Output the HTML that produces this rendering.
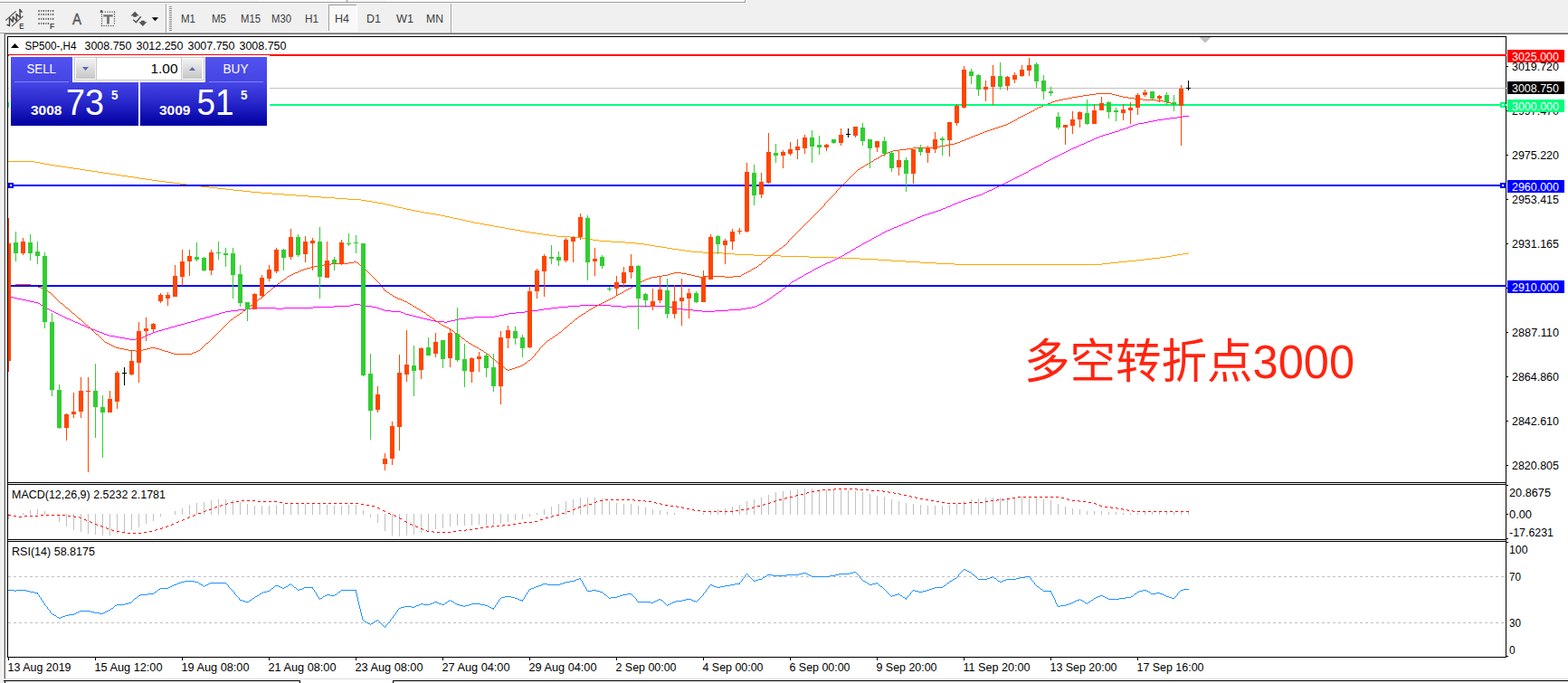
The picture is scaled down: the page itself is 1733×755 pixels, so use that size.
<!DOCTYPE html><html><head><meta charset="utf-8"><title>SP500 H4</title>
<style>html,body{margin:0;padding:0;background:#fff;overflow:hidden}body{width:1733px;height:755px}svg{display:block}text{font-family:"Liberation Sans",sans-serif}</style></head><body>
<svg width="1733" height="755" viewBox="0 0 1733 755">
<rect x="0" y="0" width="1733" height="755" fill="#fff"/>
<g shape-rendering="crispEdges">
<rect x="0" y="0" width="1733" height="36" fill="#f0f0f0"/>
<rect x="0" y="0" width="823" height="2" fill="#f6f6f6"/>
<rect x="285" y="0" width="98" height="2" fill="#fff"/>
<rect x="427" y="0" width="396" height="2" fill="#fff"/>
<rect x="0" y="2" width="824" height="1" fill="#9c9c9c"/>
<rect x="823" y="0" width="1" height="3" fill="#9c9c9c"/>
<rect x="383" y="0" width="1" height="2" fill="#8c8c8c"/>
<rect x="0" y="3" width="825" height="1" fill="#fbfbfb"/>
<rect x="824" y="0" width="1" height="4" fill="#fbfbfb"/>
<rect x="0" y="35" width="1733" height="1" fill="#f6f6f6"/>
<rect x="0" y="36" width="1733" height="1" fill="#a0a0a0"/>
<rect x="0" y="37" width="1733" height="1" fill="#696969"/>
<rect x="0" y="37" width="3" height="718" fill="#f0f0f0"/>
<rect x="3" y="37" width="1" height="718" fill="#fff"/>
<rect x="4" y="37" width="1" height="713" fill="#b4b4b4"/>
<rect x="5" y="37" width="1" height="713" fill="#696969"/>
<rect x="183" y="4" width="1" height="32" fill="#a0a0a0"/>
<rect x="184" y="4" width="1" height="32" fill="#fff"/>
<rect x="187" y="7" width="3" height="1" fill="#909090"/>
<rect x="187" y="9" width="3" height="1" fill="#909090"/>
<rect x="187" y="11" width="3" height="1" fill="#909090"/>
<rect x="187" y="13" width="3" height="1" fill="#909090"/>
<rect x="187" y="15" width="3" height="1" fill="#909090"/>
<rect x="187" y="17" width="3" height="1" fill="#909090"/>
<rect x="187" y="19" width="3" height="1" fill="#909090"/>
<rect x="187" y="21" width="3" height="1" fill="#909090"/>
<rect x="187" y="23" width="3" height="1" fill="#909090"/>
<rect x="187" y="25" width="3" height="1" fill="#909090"/>
<rect x="187" y="27" width="3" height="1" fill="#909090"/>
<rect x="187" y="29" width="3" height="1" fill="#909090"/>
<rect x="187" y="31" width="3" height="1" fill="#909090"/>
<rect x="187" y="33" width="3" height="1" fill="#909090"/>
<rect x="498" y="4" width="1" height="32" fill="#a0a0a0"/>
<rect x="499" y="4" width="1" height="32" fill="#fff"/>
<rect x="363" y="5" width="32" height="30" fill="#f9f9f9"/>
<rect x="363" y="5" width="32" height="1" fill="#a0a0a0"/>
<rect x="363" y="5" width="1" height="30" fill="#a0a0a0"/>
<rect x="394" y="5" width="1" height="30" fill="#fff"/>
<rect x="363" y="34" width="32" height="1" fill="#fff"/>
</g>
<text x="200" y="25" font-size="12" fill="#3c3c3c" textLength="16" lengthAdjust="spacingAndGlyphs">M1</text>
<text x="234" y="25" font-size="12" fill="#3c3c3c" textLength="16" lengthAdjust="spacingAndGlyphs">M5</text>
<text x="266" y="25" font-size="12" fill="#3c3c3c" textLength="22" lengthAdjust="spacingAndGlyphs">M15</text>
<text x="300" y="25" font-size="12" fill="#3c3c3c" textLength="22" lengthAdjust="spacingAndGlyphs">M30</text>
<text x="337" y="25" font-size="12" fill="#3c3c3c" textLength="15" lengthAdjust="spacingAndGlyphs">H1</text>
<text x="370" y="25" font-size="12" fill="#3c3c3c" textLength="16" lengthAdjust="spacingAndGlyphs">H4</text>
<text x="405" y="25" font-size="12" fill="#3c3c3c" textLength="16" lengthAdjust="spacingAndGlyphs">D1</text>
<text x="438" y="25" font-size="12" fill="#3c3c3c" textLength="19" lengthAdjust="spacingAndGlyphs">W1</text>
<text x="471" y="25" font-size="12" fill="#3c3c3c" textLength="19" lengthAdjust="spacingAndGlyphs">MN</text>
<g stroke="#484848" stroke-width="1.45" fill="none" stroke-linecap="round" stroke-linejoin="round">
<path d="M6.6 22.2L17.3 12.8M13.4 28.8L25.2 18.1" stroke="#6a6a6a" stroke-width="1.3"/>
<path d="M8 27.3L10.5 28.5L10.5 19.8L14.3 24.3L14.3 18.4L18.5 23.4L18.1 15.5L22.3 19.3L21.9 10.5L24 13.3"/>
</g>
<text x="21.2" y="31.8" font-size="9" fill="#484848" textLength="5.2" lengthAdjust="spacingAndGlyphs" font-weight="bold">E</text>
<rect x="42.45" y="11.00" width="1.3" height="2.1" fill="#555"/>
<rect x="45.03" y="11.00" width="1.3" height="2.1" fill="#7a7a7a"/>
<rect x="47.62" y="11.00" width="1.3" height="2.1" fill="#555"/>
<rect x="50.20" y="11.00" width="1.3" height="2.1" fill="#7a7a7a"/>
<rect x="52.78" y="11.00" width="1.3" height="2.1" fill="#555"/>
<rect x="55.37" y="11.00" width="1.3" height="2.1" fill="#7a7a7a"/>
<rect x="57.95" y="11.00" width="1.3" height="2.1" fill="#555"/>
<rect x="42.45" y="14.85" width="1.3" height="2.1" fill="#555"/>
<rect x="45.03" y="14.85" width="1.3" height="2.1" fill="#7a7a7a"/>
<rect x="47.62" y="14.85" width="1.3" height="2.1" fill="#555"/>
<rect x="50.20" y="14.85" width="1.3" height="2.1" fill="#7a7a7a"/>
<rect x="52.78" y="14.85" width="1.3" height="2.1" fill="#555"/>
<rect x="55.37" y="14.85" width="1.3" height="2.1" fill="#7a7a7a"/>
<rect x="57.95" y="14.85" width="1.3" height="2.1" fill="#555"/>
<rect x="42.45" y="19.85" width="1.3" height="2.1" fill="#555"/>
<rect x="45.03" y="19.85" width="1.3" height="2.1" fill="#7a7a7a"/>
<rect x="47.62" y="19.85" width="1.3" height="2.1" fill="#555"/>
<rect x="50.20" y="19.85" width="1.3" height="2.1" fill="#7a7a7a"/>
<rect x="52.78" y="19.85" width="1.3" height="2.1" fill="#555"/>
<rect x="55.37" y="19.85" width="1.3" height="2.1" fill="#7a7a7a"/>
<rect x="57.95" y="19.85" width="1.3" height="2.1" fill="#555"/>
<rect x="42.45" y="24.95" width="1.3" height="2.1" fill="#555"/>
<rect x="45.03" y="24.95" width="1.3" height="2.1" fill="#7a7a7a"/>
<rect x="47.62" y="24.95" width="1.3" height="2.1" fill="#555"/>
<rect x="50.20" y="24.95" width="1.3" height="2.1" fill="#7a7a7a"/>
<rect x="52.78" y="24.95" width="1.3" height="2.1" fill="#555"/>
<text x="55.1" y="31.8" font-size="9" fill="#484848" textLength="5.2" lengthAdjust="spacingAndGlyphs" font-weight="bold">F</text>
<text x="80" y="26.5" font-size="15.8" fill="#555" textLength="10" lengthAdjust="spacingAndGlyphs" stroke="#555" stroke-width="0.35">A</text>
<rect x="111.90" y="27.9" width="1.2" height="1.2" fill="#555"/>
<rect x="114.42" y="27.9" width="1.2" height="1.2" fill="#555"/>
<rect x="116.94" y="27.9" width="1.2" height="1.2" fill="#555"/>
<rect x="119.46" y="27.9" width="1.2" height="1.2" fill="#555"/>
<rect x="121.98" y="27.9" width="1.2" height="1.2" fill="#555"/>
<rect x="124.50" y="27.9" width="1.2" height="1.2" fill="#555"/>
<rect x="115.80" y="12.6" width="1.2" height="1.2" fill="#555"/>
<rect x="118.32" y="12.6" width="1.2" height="1.2" fill="#555"/>
<rect x="120.84" y="12.6" width="1.2" height="1.2" fill="#555"/>
<rect x="123.36" y="12.6" width="1.2" height="1.2" fill="#555"/>
<rect x="125.88" y="12.6" width="1.2" height="1.2" fill="#555"/>
<rect x="111.9" y="15.10" width="1.2" height="1.2" fill="#555"/>
<rect x="125.9" y="12.60" width="1.2" height="1.2" fill="#555"/>
<rect x="111.9" y="17.62" width="1.2" height="1.2" fill="#555"/>
<rect x="125.9" y="15.12" width="1.2" height="1.2" fill="#555"/>
<rect x="111.9" y="20.14" width="1.2" height="1.2" fill="#555"/>
<rect x="125.9" y="17.64" width="1.2" height="1.2" fill="#555"/>
<rect x="111.9" y="22.66" width="1.2" height="1.2" fill="#555"/>
<rect x="125.9" y="20.16" width="1.2" height="1.2" fill="#555"/>
<rect x="111.9" y="25.18" width="1.2" height="1.2" fill="#555"/>
<rect x="125.9" y="22.68" width="1.2" height="1.2" fill="#555"/>
<rect x="111.9" y="27.70" width="1.2" height="1.2" fill="#555"/>
<rect x="125.9" y="25.20" width="1.2" height="1.2" fill="#555"/>
<path d="M110.8 11.3h2.2l1.2 2.6h-3.4z" fill="#555"/>
<path d="M114.3 16.3h10.4v2.1h-3.8v8.1h-2.8v-8.1h-3.8z" fill="#727272"/>
<path d="M149.1 12.7L153.7 17.6H151V18.8H147.2V17.6H144.5z M157.9 29L153.3 24.2H155.9V22.7H159.8V24.2H162.5z" fill="#555"/>
<path d="M147.2 21.8L150.4 24.6L155.7 18.2" stroke="#555" stroke-width="1.5" fill="none"/>
<path d="M167.8 19.2h7.4l-3.7 4.1z" fill="#000"/>
<g shape-rendering="crispEdges">
<path d="M9 178.5h29M38 179.5h6M44 180.5h5M49 181.5h6M55 182.5h6M61 183.5h7M68 184.5h6M74 185.5h7M81 186.5h7M88 187.5h6M94 188.5h7M101 189.5h7M108 190.5h6M114 191.5h7M121 192.5h7M128 193.5h6M134 194.5h7M141 195.5h7M148 196.5h6M154 197.5h7M161 198.5h7M168 199.5h7M175 200.5h8M183 201.5h8M191 202.5h8M199 203.5h7M206 204.5h8M214 205.5h8M222 206.5h9M231 207.5h9M240 208.5h9M249 209.5h9M258 210.5h10M268 211.5h9M277 212.5h11M288 213.5h13M301 214.5h13M314 215.5h13M327 216.5h14M341 217.5h14M355 218.5h15M370 219.5h14M384 220.5h15M399 221.5h6M405 222.5h6M411 223.5h6M417 224.5h6M423 225.5h4M427 226.5h5M432 227.5h4M436 228.5h4M440 229.5h5M445 230.5h4M449 231.5h5M454 232.5h5M459 233.5h5M464 234.5h5M469 235.5h6M475 236.5h7M482 237.5h5M487 238.5h5M492 239.5h5M497 240.5h4M501 241.5h5M506 242.5h5M511 243.5h4M515 244.5h5M520 245.5h4M524 246.5h6M530 247.5h5M535 248.5h6M541 249.5h5M546 250.5h6M552 251.5h6M558 252.5h5M563 253.5h6M569 254.5h6M575 255.5h5M580 256.5h6M586 257.5h7M593 258.5h7M600 259.5h7M607 260.5h8M615 261.5h15M630 262.5h13M643 263.5h6M649 264.5h6M655 265.5h7M662 266.5h13M675 267.5h16M691 268.5h12M703 269.5h9M712 270.5h6M718 271.5h6M724 272.5h7M731 273.5h6M737 274.5h6M743 275.5h7M750 276.5h7M757 277.5h7M764 278.5h13M777 279.5h22M799 280.5h13M812 281.5h21M833 282.5h30M863 283.5h31M894 284.5h31M925 285.5h25M950 286.5h20M970 287.5h15M985 288.5h16M1001 289.5h16M1017 290.5h18M1035 291.5h20M1055 292.5h163M1218 291.5h9M1227 290.5h9M1236 289.5h10M1246 288.5h10M1256 287.5h9M1265 286.5h8M1273 285.5h9M1282 284.5h7M1289 283.5h6M1295 282.5h6M1301 281.5h6M1307 280.5h6M1313 279.5h1" fill="none" stroke="#ffa500" stroke-width="1"/>
<path d="M12 328.5h3M15 329.5h4M19 330.5h5M24 331.5h5M29 332.5h4M33 333.5h5M38 334.5h4M42 335.5h2M44 336.5h1M45 337.5h2M47 338.5h1M48 339.5h2M50 340.5h2M52 341.5h2M54 342.5h2M56 343.5h2M58 344.5h2M60 345.5h2M62 346.5h2M64 347.5h2M66 348.5h2M68 349.5h2M70 350.5h2M72 351.5h2M74 352.5h3M77 353.5h2M79 354.5h2M81 355.5h2M83 356.5h3M86 357.5h2M88 358.5h2M90 359.5h3M93 360.5h2M95 361.5h2M97 362.5h3M100 363.5h2M102 364.5h3M105 365.5h2M107 366.5h3M110 367.5h3M113 368.5h2M115 369.5h3M118 370.5h3M121 371.5h6M127 372.5h5M132 373.5h6M138 374.5h5M143 375.5h7M150 374.5h6M156 373.5h2M158 372.5h2M160 371.5h2M162 370.5h2M164 369.5h3M167 368.5h2M169 367.5h3M172 366.5h3M175 365.5h4M179 364.5h3M182 363.5h4M186 362.5h3M189 361.5h4M193 360.5h3M196 359.5h4M200 358.5h4M204 357.5h3M207 356.5h4M211 355.5h4M215 354.5h3M218 353.5h3M221 352.5h4M225 351.5h3M228 350.5h4M232 349.5h3M235 348.5h3M238 347.5h4M242 346.5h3M245 345.5h4M249 344.5h6M255 343.5h8M263 342.5h8M271 341.5h7M278 340.5h27M305 341.5h8M313 340.5h33M346 339.5h23M369 338.5h18M387 337.5h4M391 336.5h7M398 337.5h4M402 338.5h9M411 339.5h5M416 340.5h3M419 341.5h3M422 342.5h3M425 343.5h7M432 344.5h11M443 345.5h3M446 346.5h2M448 347.5h4M452 348.5h4M456 349.5h4M460 350.5h4M464 351.5h4M468 352.5h4M472 353.5h4M476 354.5h5M481 355.5h10M491 356.5h3M494 355.5h4M498 354.5h5M503 353.5h4M507 352.5h8M515 351.5h9M524 350.5h23M547 349.5h5M552 348.5h5M557 347.5h5M562 346.5h8M570 345.5h10M580 344.5h8M588 343.5h7M595 342.5h6M601 341.5h8M609 340.5h8M617 339.5h11M628 338.5h13M641 337.5h34M675 338.5h12M687 339.5h6M693 338.5h44M737 339.5h6M743 340.5h5M748 341.5h7M755 342.5h11M766 343.5h10M776 344.5h14M790 343.5h15M805 342.5h14M819 341.5h6M825 340.5h6M831 339.5h4M835 338.5h2M837 337.5h2M839 336.5h2M841 335.5h2M843 334.5h2M845 333.5h2M847 332.5h1M848 331.5h2M850 330.5h1M851 329.5h2M853 328.5h1M854 327.5h1M855 326.5h2M857 325.5h1M858 324.5h2M860 323.5h1M861 322.5h2M863 321.5h1M864 320.5h1M865 319.5h1M866 318.5h2M868 317.5h1M869 316.5h1M870 315.5h2M872 314.5h1M873 313.5h1M874 312.5h1M875 311.5h2M877 310.5h2M879 309.5h2M881 308.5h1M882 307.5h2M884 306.5h2M886 305.5h2M888 304.5h1M889 303.5h2M891 302.5h2M893 301.5h2M895 300.5h2M897 299.5h1M898 298.5h2M900 297.5h2M902 296.5h2M904 295.5h2M906 294.5h2M908 293.5h2M910 292.5h2M912 291.5h2M914 290.5h3M917 289.5h2M919 288.5h2M921 287.5h2M923 286.5h2M925 285.5h2M927 284.5h2M929 283.5h2M931 282.5h2M933 281.5h1M934 280.5h2M936 279.5h2M938 278.5h2M940 277.5h1M941 276.5h2M943 275.5h2M945 274.5h1M946 273.5h2M948 272.5h2M950 271.5h2M952 270.5h1M953 269.5h2M955 268.5h2M957 267.5h2M959 266.5h2M961 265.5h2M963 264.5h1M964 263.5h2M966 262.5h2M968 261.5h2M970 260.5h2M972 259.5h2M974 258.5h1M975 257.5h2M977 256.5h2M979 255.5h2M981 254.5h3M984 253.5h2M986 252.5h2M988 251.5h3M991 250.5h2M993 249.5h3M996 248.5h2M998 247.5h2M1000 246.5h3M1003 245.5h2M1005 244.5h2M1007 243.5h3M1010 242.5h2M1012 241.5h2M1014 240.5h3M1017 239.5h2M1019 238.5h3M1022 237.5h3M1025 236.5h3M1028 235.5h3M1031 234.5h3M1034 233.5h3M1037 232.5h3M1040 231.5h2M1042 230.5h3M1045 229.5h2M1047 228.5h3M1050 227.5h2M1052 226.5h2M1054 225.5h3M1057 224.5h2M1059 223.5h3M1062 222.5h2M1064 221.5h3M1067 220.5h3M1070 219.5h3M1073 218.5h3M1076 217.5h3M1079 216.5h3M1082 215.5h3M1085 214.5h2M1087 213.5h2M1089 212.5h2M1091 211.5h2M1093 210.5h3M1096 209.5h2M1098 208.5h2M1100 207.5h2M1102 206.5h2M1104 205.5h2M1106 204.5h2M1108 203.5h2M1110 202.5h2M1112 201.5h2M1114 200.5h2M1116 199.5h2M1118 198.5h2M1120 197.5h2M1122 196.5h2M1124 195.5h2M1126 194.5h2M1128 193.5h2M1130 192.5h2M1132 191.5h2M1134 190.5h2M1136 189.5h1M1137 188.5h2M1139 187.5h2M1141 186.5h2M1143 185.5h2M1145 184.5h2M1147 183.5h2M1149 182.5h2M1151 181.5h2M1153 180.5h1M1154 179.5h2M1156 178.5h2M1158 177.5h2M1160 176.5h2M1162 175.5h2M1164 174.5h2M1166 173.5h2M1168 172.5h2M1170 171.5h2M1172 170.5h2M1174 169.5h2M1176 168.5h2M1178 167.5h2M1180 166.5h2M1182 165.5h2M1184 164.5h2M1186 163.5h3M1189 162.5h2M1191 161.5h2M1193 160.5h2M1195 159.5h3M1198 158.5h2M1200 157.5h2M1202 156.5h3M1205 155.5h2M1207 154.5h2M1209 153.5h2M1211 152.5h3M1214 151.5h2M1216 150.5h3M1219 149.5h3M1222 148.5h4M1226 147.5h3M1229 146.5h3M1232 145.5h4M1236 144.5h2M1238 143.5h3M1241 142.5h3M1244 141.5h3M1247 140.5h2M1249 139.5h3M1252 138.5h3M1255 137.5h3M1258 136.5h6M1264 135.5h5M1269 134.5h5M1274 133.5h5M1279 132.5h7M1286 131.5h7M1293 130.5h8M1301 129.5h6M1307 128.5h7" fill="none" stroke="#ff00ff" stroke-width="1"/>
<path d="M17 314.5h17M34 315.5h4M38 316.5h4M42 317.5h3M45 318.5h2M47 319.5h2M49 320.5h2M51 321.5h2M53 322.5h1M54 323.5h2M56 324.5h1M57 325.5h1M58 326.5h1M59 327.5h1M60 328.5h1M61 329.5h1M62 330.5h1M63 331.5h1M64 332.5h1M65 333.5h1M66 334.5h1M67 335.5h2M69 336.5h1M70 337.5h1M71 338.5h1M72 339.5h1M73 340.5h2M75 341.5h1M76 342.5h1M77 343.5h1M78 344.5h1M79 345.5h1M80 346.5h2M82 347.5h1M83 348.5h1M84 349.5h1M85 350.5h1M86 351.5h1M87 352.5h2M89 353.5h1M90 354.5h1M91 355.5h1M92 356.5h1M93 357.5h1M94 358.5h1M95 359.5h2M97 360.5h1M98 361.5h1M99 362.5h1M100 363.5h1M101 364.5h1M102 365.5h1M103 366.5h1M104 367.5h1M105 368.5h1M106 369.5h2M108 370.5h1M109 371.5h1M110 372.5h1M111 373.5h1M112 374.5h1M113 375.5h1M114 376.5h1M115 377.5h1M116 378.5h2M118 379.5h2M120 380.5h2M122 381.5h2M124 382.5h2M126 383.5h2M128 384.5h4M132 385.5h5M137 386.5h5M142 387.5h8M150 388.5h1M151 387.5h7M158 386.5h4M162 385.5h4M166 384.5h6M172 385.5h4M176 386.5h3M179 387.5h3M182 388.5h4M186 389.5h3M189 390.5h3M192 391.5h20M212 390.5h2M214 389.5h3M217 388.5h2M219 387.5h2M221 386.5h1M222 385.5h1M223 384.5h1M224 383.5h1M225 382.5h1M226 381.5h1M227 380.5h1M228 379.5h2M230 378.5h1M231 377.5h1M232 376.5h1M233 375.5h1M234 374.5h1M235 373.5h1M236 372.5h1M237 371.5h1M238 370.5h1M239 369.5h1M240 368.5h1M241 367.5h1M242 366.5h1M243 365.5h1M244 364.5h1M245 363.5h1M246 362.5h1M247 361.5h1M248 360.5h1M249 359.5h1M250 358.5h1M251 357.5h1M252 356.5h1M253 355.5h1M254 354.5h1M255 353.5h2M257 352.5h1M258 351.5h1M259 350.5h2M261 349.5h1M262 348.5h2M264 347.5h1M265 346.5h2M267 345.5h1M268 344.5h1M269 343.5h2M271 342.5h1M272 341.5h2M274 340.5h1M275 339.5h1M276 338.5h1M277 337.5h2M279 336.5h1M280 335.5h1M281 334.5h2M283 333.5h1M284 332.5h1M285 331.5h1M286 330.5h2M288 329.5h1M289 328.5h1M290 327.5h2M292 326.5h1M293 325.5h1M294 324.5h1M295 323.5h1M296 322.5h2M298 321.5h1M299 320.5h1M300 319.5h1M301 318.5h1M302 317.5h2M304 316.5h1M305 315.5h1M306 314.5h1M307 313.5h2M309 312.5h1M310 311.5h1M311 310.5h2M313 309.5h1M314 308.5h2M316 307.5h1M317 306.5h1M318 305.5h2M320 304.5h2M322 303.5h2M324 302.5h2M326 301.5h3M329 300.5h2M331 299.5h2M333 298.5h3M336 297.5h3M339 296.5h4M343 295.5h4M347 294.5h5M352 293.5h6M358 292.5h8M366 291.5h19M385 290.5h6M391 289.5h3M394 290.5h2M396 291.5h1M397 292.5h1M398 293.5h2M400 294.5h1M401 295.5h1M402 296.5h1M403 297.5h1M404 298.5h1M405 299.5h1M406 300.5h1M407 301.5h1M408 302.5h1M409 303.5h1M410 304.5h1M411 305.5h1M412 306.5h1M413 307.5h1M414 308.5h1M415 309.5h1M416 310.5h1M417 311.5h1M418 312.5h1M419 313.5h1M420 314.5h1M421.5 315v2M422 317.5h1M423 318.5h1M424.5 319v2M425 321.5h2M427 322.5h1M428 323.5h2M430 324.5h1M431 325.5h2M433 326.5h1M434 327.5h2M436 328.5h2M438 329.5h2M440 330.5h3M443 331.5h2M445 332.5h2M447 333.5h3M450 334.5h1M451 335.5h2M453 336.5h2M455 337.5h1M456 338.5h2M458 339.5h2M460 340.5h1M461 341.5h2M463 342.5h2M465 343.5h1M466 344.5h2M468 345.5h2M470 346.5h1M471 347.5h1M472 348.5h2M474 349.5h1M475 350.5h2M477 351.5h1M478 352.5h2M480 353.5h1M481 354.5h1M482 355.5h2M484 356.5h1M485 357.5h2M487 358.5h1M488 359.5h2M490 360.5h2M492 361.5h2M494 362.5h2M496 363.5h2M498 364.5h1M499 365.5h2M501 366.5h1M502 367.5h1M503 368.5h2M505 369.5h1M506 370.5h1M507 371.5h2M509 372.5h1M510 373.5h1M511 374.5h2M513 375.5h1M514 376.5h1M515 377.5h2M517 378.5h1M518 379.5h2M520 380.5h2M522 381.5h1M523 382.5h2M525 383.5h2M527 384.5h2M529 385.5h1M530 386.5h2M532 387.5h2M534 388.5h1M535 389.5h2M537 390.5h1M538 391.5h2M540 392.5h1M541 393.5h1M542 394.5h1M543 395.5h1M544 396.5h1M545 397.5h2M547 398.5h1M548 399.5h1M549 400.5h1M550 401.5h1M551 402.5h2M553 403.5h1M554 404.5h1M555 405.5h2M557 406.5h1M558 407.5h1M559 408.5h2M561 409.5h2M563 408.5h3M566 407.5h3M569 406.5h3M572 405.5h3M575 404.5h2M577 403.5h2M579 402.5h1M580 401.5h2M582 400.5h1M583 399.5h1M584 398.5h2M586 397.5h1M587 396.5h1M588 395.5h1M589 394.5h1M590 393.5h1M591.5 391v2M592 390.5h1M593 389.5h1M594 388.5h1M595 387.5h1M596.5 385v2M597 384.5h1M598 383.5h1M599 382.5h1M600 381.5h1M601 380.5h1M602 379.5h1M603 378.5h1M604 377.5h1M605 376.5h2M607 375.5h1M608 374.5h2M610 373.5h1M611 372.5h2M613 371.5h1M614 370.5h2M616 369.5h1M617 368.5h1M618 367.5h2M620 366.5h1M621 365.5h1M622 364.5h1M623 363.5h1M624 362.5h2M626 361.5h1M627 360.5h1M628 359.5h1M629 358.5h1M630 357.5h2M632 356.5h1M633 355.5h1M634 354.5h1M635 353.5h1M636 352.5h2M638 351.5h1M639 350.5h1M640 349.5h2M642 348.5h1M643 347.5h2M645 346.5h2M647 345.5h1M648 344.5h2M650 343.5h1M651 342.5h2M653 341.5h2M655 340.5h1M656 339.5h2M658 338.5h2M660 337.5h2M662 336.5h2M664 335.5h2M666 334.5h2M668 333.5h2M670 332.5h2M672 331.5h2M674 330.5h2M676 329.5h2M678 328.5h2M680 327.5h1M681 326.5h2M683 325.5h2M685 324.5h2M687 323.5h2M689 322.5h1M690 321.5h2M692 320.5h2M694 319.5h2M696 318.5h2M698 317.5h1M699 316.5h2M701 315.5h2M703 314.5h2M705 313.5h1M706 312.5h2M708 311.5h2M710 310.5h2M712 309.5h2M714 308.5h3M717 307.5h3M720 306.5h6M726 305.5h6M732 304.5h6M738 303.5h3M741 302.5h4M745 301.5h8M753 302.5h6M759 303.5h5M764 304.5h4M768 305.5h5M773 306.5h5M778 305.5h23M801 306.5h9M810 305.5h9M819 304.5h1M820 303.5h2M822 302.5h2M824 301.5h2M826 300.5h2M828 299.5h2M830 298.5h1M831 297.5h2M833 296.5h2M835 295.5h2M837 294.5h1M838 293.5h1M839 292.5h2M841 291.5h1M842 290.5h1M843 289.5h1M844 288.5h2M846 287.5h1M847 286.5h1M848 285.5h1M849 284.5h2M851 283.5h1M852 282.5h1M853 281.5h1M854 280.5h2M856 279.5h1M857 278.5h1M858 277.5h2M860 276.5h1M861 275.5h1M862 274.5h2M864 273.5h1M865 272.5h1M866 271.5h2M868 270.5h1M869 269.5h1M870 268.5h1M871.5 266v2M872 265.5h1M873 264.5h1M874 263.5h1M875 262.5h1M876 261.5h1M877 260.5h1M878 259.5h1M879 258.5h1M880 257.5h1M881 256.5h1M882 255.5h1M883 254.5h1M884 253.5h1M885 252.5h1M886 251.5h1M887 250.5h1M888 249.5h1M889 248.5h1M890 247.5h1M891 246.5h1M892 245.5h1M893 244.5h1M894 243.5h1M895 242.5h1M896 241.5h1M897 240.5h1M898 239.5h1M899 238.5h1M900 237.5h1M901 236.5h1M902 235.5h1M903 234.5h1M904 233.5h1M905 232.5h1M906 231.5h1M907 230.5h1M908 229.5h1M909 228.5h1M910 227.5h1M911.5 225v2M912 224.5h1M913 223.5h1M914 222.5h1M915 221.5h1M916 220.5h1M917 219.5h1M918 218.5h1M919 217.5h1M920 216.5h1M921 215.5h1M922 214.5h1M923 213.5h1M924.5 211v2M925 210.5h1M926 209.5h1M927 208.5h1M928 207.5h1M929 206.5h1M930 205.5h1M931 204.5h1M932 203.5h1M933 202.5h1M934 201.5h1M935 200.5h1M936 199.5h1M937 198.5h1M938 197.5h1M939 196.5h1M940 195.5h1M941 194.5h1M942 193.5h1M943 192.5h1M944 191.5h1M945 190.5h1M946 189.5h1M947 188.5h1M948 187.5h2M950 186.5h1M951 185.5h2M953 184.5h2M955 183.5h1M956 182.5h2M958 181.5h2M960 180.5h1M961 179.5h2M963 178.5h2M965 177.5h1M966 176.5h2M968 175.5h2M970 174.5h2M972 173.5h1M973 172.5h2M975 171.5h2M977 170.5h2M979 169.5h2M981 168.5h3M984 167.5h3M987 166.5h7M994 165.5h8M1002 164.5h7M1009 163.5h25M1034 162.5h5M1039 161.5h6M1045 160.5h5M1050 159.5h5M1055 158.5h3M1058 157.5h3M1061 156.5h2M1063 155.5h3M1066 154.5h2M1068 153.5h3M1071 152.5h2M1073 151.5h3M1076 150.5h2M1078 149.5h3M1081 148.5h2M1083 147.5h3M1086 146.5h2M1088 145.5h3M1091 144.5h3M1094 143.5h3M1097 142.5h3M1100 141.5h3M1103 140.5h3M1106 139.5h3M1109 138.5h3M1112 137.5h2M1114 136.5h2M1116 135.5h2M1118 134.5h2M1120 133.5h2M1122 132.5h2M1124 131.5h1M1125 130.5h2M1127 129.5h2M1129 128.5h2M1131 127.5h2M1133 126.5h2M1135 125.5h2M1137 124.5h2M1139 123.5h2M1141 122.5h2M1143 121.5h1M1144 120.5h2M1146 119.5h2M1148 118.5h3M1151 117.5h2M1153 116.5h3M1156 115.5h2M1158 114.5h3M1161 113.5h2M1163 112.5h3M1166 111.5h4M1170 110.5h5M1175 109.5h5M1180 108.5h5M1185 107.5h6M1191 106.5h6M1197 105.5h7M1204 104.5h7M1211 103.5h18M1229 104.5h4M1233 105.5h4M1237 106.5h4M1241 107.5h6M1247 108.5h7M1254 109.5h9M1263 110.5h15M1278 111.5h8M1286 112.5h4M1290 113.5h4M1294 114.5h4M1298 115.5h6M1304 116.5h3" fill="none" stroke="#ff4500" stroke-width="1"/>
<rect x="9" y="60" width="1655" height="2" fill="#ff0000"/>
<rect x="9" y="97" width="1655" height="1" fill="#c0c0c0"/>
<rect x="9" y="115" width="1655" height="2" fill="#00ff7f"/>
<rect x="9" y="204" width="1655" height="2" fill="#0000ff"/>
<rect x="9" y="315" width="1655" height="2" fill="#0000ff"/>
<rect x="9" y="113" width="6" height="6" fill="#00ff7f"/>
<rect x="11" y="115" width="2" height="2" fill="#fff"/>
<rect x="1658" y="113" width="6" height="6" fill="#00ff7f"/>
<rect x="1660" y="115" width="2" height="2" fill="#fff"/>
<rect x="9" y="202" width="6" height="6" fill="#0000ff"/>
<rect x="11" y="204" width="2" height="2" fill="#fff"/>
<rect x="1658" y="202" width="6" height="6" fill="#0000ff"/>
<rect x="1660" y="204" width="2" height="2" fill="#fff"/>
<path d="M1325 41h13l-6.5 6.5z" fill="#c0c0c0"/>
<line x1="9" y1="637.5" x2="1664" y2="637.5" stroke="#c0c0c0" stroke-dasharray="3 3"/>
<line x1="9" y1="688.5" x2="1664" y2="688.5" stroke="#c0c0c0" stroke-dasharray="3 3"/>
<rect x="9" y="241" width="1" height="170" fill="#ff4500"/>
<rect x="9" y="269" width="3" height="130" fill="#ff4500"/>
<rect x="17" y="256" width="1" height="33" fill="#32cd32"/>
<rect x="15" y="268" width="5" height="12" fill="#32cd32"/>
<rect x="25" y="263" width="1" height="19" fill="#ff4500"/>
<rect x="23" y="267" width="5" height="13" fill="#ff4500"/>
<rect x="33" y="259" width="1" height="29" fill="#32cd32"/>
<rect x="31" y="268" width="5" height="12" fill="#32cd32"/>
<rect x="41" y="267" width="1" height="25" fill="#32cd32"/>
<rect x="39" y="278" width="5" height="5" fill="#32cd32"/>
<rect x="49" y="279" width="1" height="84" fill="#32cd32"/>
<rect x="47" y="283" width="5" height="73" fill="#32cd32"/>
<rect x="57" y="346" width="1" height="92" fill="#32cd32"/>
<rect x="55" y="356" width="5" height="75" fill="#32cd32"/>
<rect x="65" y="425" width="1" height="49" fill="#32cd32"/>
<rect x="63" y="431" width="5" height="42" fill="#32cd32"/>
<rect x="73" y="457" width="1" height="30" fill="#ff4500"/>
<rect x="71" y="458" width="5" height="15" fill="#ff4500"/>
<rect x="81" y="434" width="1" height="28" fill="#ff4500"/>
<rect x="79" y="455" width="5" height="3" fill="#ff4500"/>
<rect x="89" y="417" width="1" height="45" fill="#ff4500"/>
<rect x="87" y="432" width="5" height="23" fill="#ff4500"/>
<rect x="97" y="417" width="1" height="105" fill="#ff4500"/>
<rect x="95" y="432" width="5" height="1" fill="#ff4500"/>
<rect x="105" y="402" width="1" height="82" fill="#32cd32"/>
<rect x="103" y="432" width="5" height="18" fill="#32cd32"/>
<rect x="113" y="437" width="1" height="69" fill="#32cd32"/>
<rect x="111" y="450" width="5" height="6" fill="#32cd32"/>
<rect x="121" y="432" width="1" height="24" fill="#ff4500"/>
<rect x="119" y="441" width="5" height="15" fill="#ff4500"/>
<rect x="129" y="410" width="1" height="42" fill="#ff4500"/>
<rect x="127" y="412" width="5" height="32" fill="#ff4500"/>
<rect x="137" y="406" width="1" height="20" fill="#000"/>
<rect x="135" y="412" width="5" height="1" fill="#000"/>
<rect x="145" y="388" width="1" height="27" fill="#ff4500"/>
<rect x="143" y="399" width="5" height="15" fill="#ff4500"/>
<rect x="153" y="356" width="1" height="67" fill="#ff4500"/>
<rect x="151" y="366" width="5" height="35" fill="#ff4500"/>
<rect x="161" y="351" width="1" height="26" fill="#ff4500"/>
<rect x="159" y="363" width="5" height="3" fill="#ff4500"/>
<rect x="169" y="357" width="1" height="10" fill="#ff4500"/>
<rect x="167" y="358" width="5" height="6" fill="#ff4500"/>
<rect x="177" y="324" width="1" height="11" fill="#ff4500"/>
<rect x="175" y="326" width="5" height="7" fill="#ff4500"/>
<rect x="185" y="323" width="1" height="15" fill="#ff4500"/>
<rect x="183" y="326" width="5" height="4" fill="#ff4500"/>
<rect x="193" y="293" width="1" height="35" fill="#ff4500"/>
<rect x="191" y="305" width="5" height="23" fill="#ff4500"/>
<rect x="201" y="276" width="1" height="40" fill="#ff4500"/>
<rect x="199" y="289" width="5" height="17" fill="#ff4500"/>
<rect x="209" y="276" width="1" height="29" fill="#ff4500"/>
<rect x="207" y="283" width="5" height="6" fill="#ff4500"/>
<rect x="217" y="268" width="1" height="21" fill="#32cd32"/>
<rect x="215" y="284" width="5" height="3" fill="#32cd32"/>
<rect x="225" y="284" width="1" height="16" fill="#32cd32"/>
<rect x="223" y="285" width="5" height="14" fill="#32cd32"/>
<rect x="233" y="276" width="1" height="28" fill="#ff4500"/>
<rect x="231" y="279" width="5" height="20" fill="#ff4500"/>
<rect x="241" y="267" width="1" height="20" fill="#32cd32"/>
<rect x="239" y="279" width="5" height="1" fill="#32cd32"/>
<rect x="249" y="274" width="1" height="21" fill="#32cd32"/>
<rect x="247" y="280" width="5" height="2" fill="#32cd32"/>
<rect x="257" y="274" width="1" height="56" fill="#32cd32"/>
<rect x="255" y="280" width="5" height="24" fill="#32cd32"/>
<rect x="265" y="293" width="1" height="46" fill="#32cd32"/>
<rect x="263" y="303" width="5" height="32" fill="#32cd32"/>
<rect x="273" y="334" width="1" height="21" fill="#32cd32"/>
<rect x="271" y="334" width="5" height="8" fill="#32cd32"/>
<rect x="281" y="324" width="1" height="18" fill="#ff4500"/>
<rect x="279" y="325" width="5" height="17" fill="#ff4500"/>
<rect x="289" y="304" width="1" height="26" fill="#ff4500"/>
<rect x="287" y="307" width="5" height="20" fill="#ff4500"/>
<rect x="297" y="293" width="1" height="18" fill="#ff4500"/>
<rect x="295" y="298" width="5" height="10" fill="#ff4500"/>
<rect x="305" y="274" width="1" height="28" fill="#ff4500"/>
<rect x="303" y="276" width="5" height="24" fill="#ff4500"/>
<rect x="313" y="275" width="1" height="24" fill="#32cd32"/>
<rect x="311" y="276" width="5" height="9" fill="#32cd32"/>
<rect x="321" y="253" width="1" height="34" fill="#ff4500"/>
<rect x="319" y="262" width="5" height="22" fill="#ff4500"/>
<rect x="329" y="259" width="1" height="25" fill="#32cd32"/>
<rect x="327" y="262" width="5" height="20" fill="#32cd32"/>
<rect x="337" y="261" width="1" height="29" fill="#ff4500"/>
<rect x="335" y="267" width="5" height="14" fill="#ff4500"/>
<rect x="345" y="263" width="1" height="36" fill="#ff4500"/>
<rect x="343" y="266" width="5" height="3" fill="#ff4500"/>
<rect x="353" y="251" width="1" height="79" fill="#32cd32"/>
<rect x="351" y="267" width="5" height="39" fill="#32cd32"/>
<rect x="361" y="267" width="1" height="40" fill="#ff4500"/>
<rect x="359" y="288" width="5" height="19" fill="#ff4500"/>
<rect x="369" y="284" width="1" height="15" fill="#32cd32"/>
<rect x="367" y="287" width="5" height="4" fill="#32cd32"/>
<rect x="377" y="265" width="1" height="28" fill="#ff4500"/>
<rect x="375" y="268" width="5" height="24" fill="#ff4500"/>
<rect x="385" y="258" width="1" height="14" fill="#32cd32"/>
<rect x="383" y="269" width="5" height="1" fill="#32cd32"/>
<rect x="393" y="260" width="1" height="20" fill="#32cd32"/>
<rect x="391" y="268" width="5" height="1" fill="#32cd32"/>
<rect x="401" y="269" width="1" height="147" fill="#32cd32"/>
<rect x="399" y="269" width="5" height="146" fill="#32cd32"/>
<rect x="409" y="391" width="1" height="95" fill="#32cd32"/>
<rect x="407" y="413" width="5" height="41" fill="#32cd32"/>
<rect x="417" y="427" width="1" height="29" fill="#ff4500"/>
<rect x="415" y="436" width="5" height="17" fill="#ff4500"/>
<rect x="425" y="501" width="1" height="19" fill="#ff4500"/>
<rect x="423" y="507" width="5" height="6" fill="#ff4500"/>
<rect x="433" y="466" width="1" height="48" fill="#ff4500"/>
<rect x="431" y="471" width="5" height="36" fill="#ff4500"/>
<rect x="441" y="392" width="1" height="106" fill="#ff4500"/>
<rect x="439" y="412" width="5" height="60" fill="#ff4500"/>
<rect x="449" y="365" width="1" height="57" fill="#ff4500"/>
<rect x="447" y="403" width="5" height="11" fill="#ff4500"/>
<rect x="457" y="382" width="1" height="56" fill="#32cd32"/>
<rect x="455" y="404" width="5" height="6" fill="#32cd32"/>
<rect x="465" y="384" width="1" height="35" fill="#ff4500"/>
<rect x="463" y="385" width="5" height="24" fill="#ff4500"/>
<rect x="473" y="373" width="1" height="20" fill="#32cd32"/>
<rect x="471" y="384" width="5" height="9" fill="#32cd32"/>
<rect x="481" y="368" width="1" height="27" fill="#ff4500"/>
<rect x="479" y="378" width="5" height="13" fill="#ff4500"/>
<rect x="489" y="376" width="1" height="31" fill="#32cd32"/>
<rect x="487" y="376" width="5" height="21" fill="#32cd32"/>
<rect x="497" y="364" width="1" height="42" fill="#ff4500"/>
<rect x="495" y="368" width="5" height="28" fill="#ff4500"/>
<rect x="505" y="340" width="1" height="60" fill="#32cd32"/>
<rect x="503" y="369" width="5" height="29" fill="#32cd32"/>
<rect x="513" y="380" width="1" height="48" fill="#32cd32"/>
<rect x="511" y="397" width="5" height="13" fill="#32cd32"/>
<rect x="521" y="395" width="1" height="28" fill="#ff4500"/>
<rect x="519" y="396" width="5" height="15" fill="#ff4500"/>
<rect x="529" y="389" width="1" height="22" fill="#ff4500"/>
<rect x="527" y="394" width="5" height="3" fill="#ff4500"/>
<rect x="537" y="390" width="1" height="27" fill="#32cd32"/>
<rect x="535" y="393" width="5" height="14" fill="#32cd32"/>
<rect x="545" y="391" width="1" height="42" fill="#32cd32"/>
<rect x="543" y="406" width="5" height="21" fill="#32cd32"/>
<rect x="553" y="366" width="1" height="81" fill="#ff4500"/>
<rect x="551" y="373" width="5" height="54" fill="#ff4500"/>
<rect x="561" y="360" width="1" height="25" fill="#ff4500"/>
<rect x="559" y="365" width="5" height="9" fill="#ff4500"/>
<rect x="569" y="361" width="1" height="20" fill="#32cd32"/>
<rect x="567" y="366" width="5" height="8" fill="#32cd32"/>
<rect x="577" y="370" width="1" height="25" fill="#32cd32"/>
<rect x="575" y="373" width="5" height="12" fill="#32cd32"/>
<rect x="585" y="316" width="1" height="69" fill="#ff4500"/>
<rect x="583" y="322" width="5" height="62" fill="#ff4500"/>
<rect x="593" y="297" width="1" height="33" fill="#ff4500"/>
<rect x="591" y="299" width="5" height="23" fill="#ff4500"/>
<rect x="601" y="281" width="1" height="47" fill="#ff4500"/>
<rect x="599" y="283" width="5" height="17" fill="#ff4500"/>
<rect x="609" y="271" width="1" height="21" fill="#32cd32"/>
<rect x="607" y="284" width="5" height="2" fill="#32cd32"/>
<rect x="617" y="278" width="1" height="16" fill="#32cd32"/>
<rect x="615" y="284" width="5" height="4" fill="#32cd32"/>
<rect x="625" y="263" width="1" height="27" fill="#ff4500"/>
<rect x="623" y="265" width="5" height="23" fill="#ff4500"/>
<rect x="633" y="261" width="1" height="29" fill="#ff4500"/>
<rect x="631" y="262" width="5" height="5" fill="#ff4500"/>
<rect x="641" y="236" width="1" height="29" fill="#ff4500"/>
<rect x="639" y="240" width="5" height="22" fill="#ff4500"/>
<rect x="649" y="238" width="1" height="72" fill="#32cd32"/>
<rect x="647" y="241" width="5" height="49" fill="#32cd32"/>
<rect x="657" y="274" width="1" height="31" fill="#ff4500"/>
<rect x="655" y="286" width="5" height="3" fill="#ff4500"/>
<rect x="665" y="282" width="1" height="15" fill="#32cd32"/>
<rect x="663" y="284" width="5" height="10" fill="#32cd32"/>
<rect x="673" y="317" width="1" height="5" fill="#32cd32"/>
<rect x="671" y="319" width="5" height="1" fill="#32cd32"/>
<rect x="681" y="305" width="1" height="21" fill="#ff4500"/>
<rect x="679" y="312" width="5" height="7" fill="#ff4500"/>
<rect x="689" y="295" width="1" height="23" fill="#ff4500"/>
<rect x="687" y="301" width="5" height="12" fill="#ff4500"/>
<rect x="697" y="281" width="1" height="27" fill="#ff4500"/>
<rect x="695" y="294" width="5" height="7" fill="#ff4500"/>
<rect x="705" y="293" width="1" height="71" fill="#32cd32"/>
<rect x="703" y="294" width="5" height="36" fill="#32cd32"/>
<rect x="713" y="324" width="1" height="16" fill="#32cd32"/>
<rect x="711" y="325" width="5" height="7" fill="#32cd32"/>
<rect x="721" y="319" width="1" height="24" fill="#ff4500"/>
<rect x="719" y="333" width="5" height="6" fill="#ff4500"/>
<rect x="729" y="305" width="1" height="30" fill="#ff4500"/>
<rect x="727" y="320" width="5" height="12" fill="#ff4500"/>
<rect x="737" y="308" width="1" height="44" fill="#32cd32"/>
<rect x="735" y="321" width="5" height="26" fill="#32cd32"/>
<rect x="745" y="315" width="1" height="37" fill="#ff4500"/>
<rect x="743" y="333" width="5" height="14" fill="#ff4500"/>
<rect x="753" y="308" width="1" height="52" fill="#ff4500"/>
<rect x="751" y="329" width="5" height="4" fill="#ff4500"/>
<rect x="761" y="319" width="1" height="33" fill="#ff4500"/>
<rect x="759" y="324" width="5" height="6" fill="#ff4500"/>
<rect x="769" y="322" width="1" height="13" fill="#32cd32"/>
<rect x="767" y="324" width="5" height="10" fill="#32cd32"/>
<rect x="777" y="299" width="1" height="35" fill="#ff4500"/>
<rect x="775" y="306" width="5" height="28" fill="#ff4500"/>
<rect x="785" y="259" width="1" height="50" fill="#ff4500"/>
<rect x="783" y="262" width="5" height="47" fill="#ff4500"/>
<rect x="793" y="260" width="1" height="21" fill="#32cd32"/>
<rect x="791" y="261" width="5" height="9" fill="#32cd32"/>
<rect x="801" y="264" width="1" height="28" fill="#ff4500"/>
<rect x="799" y="266" width="5" height="5" fill="#ff4500"/>
<rect x="809" y="253" width="1" height="23" fill="#ff4500"/>
<rect x="807" y="256" width="5" height="11" fill="#ff4500"/>
<rect x="817" y="252" width="1" height="7" fill="#ff4500"/>
<rect x="815" y="255" width="5" height="1" fill="#ff4500"/>
<rect x="825" y="180" width="1" height="77" fill="#ff4500"/>
<rect x="823" y="190" width="5" height="66" fill="#ff4500"/>
<rect x="833" y="182" width="1" height="45" fill="#32cd32"/>
<rect x="831" y="191" width="5" height="25" fill="#32cd32"/>
<rect x="841" y="191" width="1" height="28" fill="#ff4500"/>
<rect x="839" y="201" width="5" height="14" fill="#ff4500"/>
<rect x="849" y="147" width="1" height="56" fill="#ff4500"/>
<rect x="847" y="168" width="5" height="34" fill="#ff4500"/>
<rect x="857" y="159" width="1" height="21" fill="#32cd32"/>
<rect x="855" y="169" width="5" height="3" fill="#32cd32"/>
<rect x="865" y="166" width="1" height="20" fill="#ff4500"/>
<rect x="863" y="168" width="5" height="4" fill="#ff4500"/>
<rect x="873" y="157" width="1" height="15" fill="#ff4500"/>
<rect x="871" y="165" width="5" height="5" fill="#ff4500"/>
<rect x="881" y="154" width="1" height="22" fill="#ff4500"/>
<rect x="879" y="162" width="5" height="4" fill="#ff4500"/>
<rect x="889" y="149" width="1" height="21" fill="#ff4500"/>
<rect x="887" y="152" width="5" height="12" fill="#ff4500"/>
<rect x="897" y="144" width="1" height="36" fill="#32cd32"/>
<rect x="895" y="152" width="5" height="10" fill="#32cd32"/>
<rect x="905" y="150" width="1" height="21" fill="#32cd32"/>
<rect x="903" y="160" width="5" height="3" fill="#32cd32"/>
<rect x="913" y="159" width="1" height="8" fill="#ff4500"/>
<rect x="911" y="160" width="5" height="3" fill="#ff4500"/>
<rect x="921" y="154" width="1" height="5" fill="#32cd32"/>
<rect x="919" y="154" width="5" height="4" fill="#32cd32"/>
<rect x="929" y="142" width="1" height="19" fill="#ff4500"/>
<rect x="927" y="149" width="5" height="9" fill="#ff4500"/>
<rect x="937" y="142" width="1" height="10" fill="#000"/>
<rect x="935" y="148" width="5" height="1" fill="#000"/>
<rect x="945" y="140" width="1" height="12" fill="#ff4500"/>
<rect x="943" y="140" width="5" height="10" fill="#ff4500"/>
<rect x="953" y="136" width="1" height="25" fill="#32cd32"/>
<rect x="951" y="141" width="5" height="15" fill="#32cd32"/>
<rect x="961" y="154" width="1" height="32" fill="#32cd32"/>
<rect x="959" y="154" width="5" height="10" fill="#32cd32"/>
<rect x="969" y="156" width="1" height="12" fill="#ff4500"/>
<rect x="967" y="156" width="5" height="7" fill="#ff4500"/>
<rect x="977" y="151" width="1" height="22" fill="#32cd32"/>
<rect x="975" y="156" width="5" height="14" fill="#32cd32"/>
<rect x="985" y="167" width="1" height="23" fill="#32cd32"/>
<rect x="983" y="169" width="5" height="17" fill="#32cd32"/>
<rect x="993" y="166" width="1" height="28" fill="#ff4500"/>
<rect x="991" y="177" width="5" height="8" fill="#ff4500"/>
<rect x="1001" y="174" width="1" height="38" fill="#32cd32"/>
<rect x="999" y="177" width="5" height="15" fill="#32cd32"/>
<rect x="1009" y="165" width="1" height="38" fill="#ff4500"/>
<rect x="1007" y="165" width="5" height="27" fill="#ff4500"/>
<rect x="1017" y="160" width="1" height="12" fill="#32cd32"/>
<rect x="1015" y="164" width="5" height="4" fill="#32cd32"/>
<rect x="1025" y="161" width="1" height="19" fill="#ff4500"/>
<rect x="1023" y="164" width="5" height="5" fill="#ff4500"/>
<rect x="1033" y="146" width="1" height="23" fill="#ff4500"/>
<rect x="1031" y="154" width="5" height="11" fill="#ff4500"/>
<rect x="1041" y="151" width="1" height="21" fill="#32cd32"/>
<rect x="1039" y="153" width="5" height="2" fill="#32cd32"/>
<rect x="1049" y="135" width="1" height="38" fill="#ff4500"/>
<rect x="1047" y="135" width="5" height="20" fill="#ff4500"/>
<rect x="1057" y="115" width="1" height="24" fill="#ff4500"/>
<rect x="1055" y="117" width="5" height="19" fill="#ff4500"/>
<rect x="1065" y="73" width="1" height="47" fill="#ff4500"/>
<rect x="1063" y="77" width="5" height="42" fill="#ff4500"/>
<rect x="1073" y="76" width="1" height="17" fill="#32cd32"/>
<rect x="1071" y="79" width="5" height="5" fill="#32cd32"/>
<rect x="1081" y="82" width="1" height="24" fill="#32cd32"/>
<rect x="1079" y="83" width="5" height="16" fill="#32cd32"/>
<rect x="1089" y="89" width="1" height="23" fill="#ff4500"/>
<rect x="1087" y="96" width="5" height="3" fill="#ff4500"/>
<rect x="1097" y="72" width="1" height="44" fill="#ff4500"/>
<rect x="1095" y="84" width="5" height="12" fill="#ff4500"/>
<rect x="1105" y="69" width="1" height="30" fill="#32cd32"/>
<rect x="1103" y="84" width="5" height="12" fill="#32cd32"/>
<rect x="1113" y="84" width="1" height="16" fill="#ff4500"/>
<rect x="1111" y="85" width="5" height="10" fill="#ff4500"/>
<rect x="1121" y="80" width="1" height="12" fill="#ff4500"/>
<rect x="1119" y="83" width="5" height="5" fill="#ff4500"/>
<rect x="1129" y="72" width="1" height="13" fill="#ff4500"/>
<rect x="1127" y="77" width="5" height="7" fill="#ff4500"/>
<rect x="1137" y="64" width="1" height="20" fill="#ff4500"/>
<rect x="1135" y="72" width="5" height="6" fill="#ff4500"/>
<rect x="1145" y="69" width="1" height="28" fill="#32cd32"/>
<rect x="1143" y="71" width="5" height="19" fill="#32cd32"/>
<rect x="1153" y="83" width="1" height="27" fill="#32cd32"/>
<rect x="1151" y="89" width="5" height="12" fill="#32cd32"/>
<rect x="1161" y="96" width="1" height="10" fill="#32cd32"/>
<rect x="1159" y="101" width="5" height="2" fill="#32cd32"/>
<rect x="1169" y="124" width="1" height="19" fill="#32cd32"/>
<rect x="1167" y="129" width="5" height="12" fill="#32cd32"/>
<rect x="1177" y="138" width="1" height="22" fill="#ff4500"/>
<rect x="1175" y="138" width="5" height="3" fill="#ff4500"/>
<rect x="1185" y="123" width="1" height="25" fill="#ff4500"/>
<rect x="1183" y="132" width="5" height="7" fill="#ff4500"/>
<rect x="1193" y="123" width="1" height="18" fill="#ff4500"/>
<rect x="1191" y="124" width="5" height="8" fill="#ff4500"/>
<rect x="1201" y="110" width="1" height="28" fill="#32cd32"/>
<rect x="1199" y="125" width="5" height="12" fill="#32cd32"/>
<rect x="1209" y="115" width="1" height="22" fill="#ff4500"/>
<rect x="1207" y="122" width="5" height="15" fill="#ff4500"/>
<rect x="1217" y="107" width="1" height="15" fill="#ff4500"/>
<rect x="1215" y="114" width="5" height="8" fill="#ff4500"/>
<rect x="1225" y="112" width="1" height="19" fill="#32cd32"/>
<rect x="1223" y="113" width="5" height="11" fill="#32cd32"/>
<rect x="1233" y="119" width="1" height="15" fill="#32cd32"/>
<rect x="1231" y="122" width="5" height="2" fill="#32cd32"/>
<rect x="1241" y="115" width="1" height="18" fill="#ff4500"/>
<rect x="1239" y="121" width="5" height="4" fill="#ff4500"/>
<rect x="1249" y="113" width="1" height="24" fill="#ff4500"/>
<rect x="1247" y="119" width="5" height="3" fill="#ff4500"/>
<rect x="1257" y="103" width="1" height="24" fill="#ff4500"/>
<rect x="1255" y="105" width="5" height="14" fill="#ff4500"/>
<rect x="1265" y="99" width="1" height="8" fill="#ff4500"/>
<rect x="1263" y="102" width="5" height="3" fill="#ff4500"/>
<rect x="1273" y="101" width="1" height="9" fill="#32cd32"/>
<rect x="1271" y="101" width="5" height="8" fill="#32cd32"/>
<rect x="1281" y="105" width="1" height="8" fill="#ff4500"/>
<rect x="1279" y="106" width="5" height="3" fill="#ff4500"/>
<rect x="1289" y="102" width="1" height="15" fill="#32cd32"/>
<rect x="1287" y="105" width="5" height="8" fill="#32cd32"/>
<rect x="1297" y="105" width="1" height="18" fill="#32cd32"/>
<rect x="1295" y="113" width="5" height="3" fill="#32cd32"/>
<rect x="1305" y="94" width="1" height="67" fill="#ff4500"/>
<rect x="1303" y="98" width="5" height="19" fill="#ff4500"/>
<rect x="1313" y="89" width="1" height="11" fill="#000"/>
<rect x="1311" y="97" width="5" height="1" fill="#000"/>
<rect x="9" y="568" width="1" height="6" fill="#c0c0c0"/>
<rect x="25" y="567" width="1" height="2" fill="#c0c0c0"/>
<rect x="33" y="564" width="1" height="5" fill="#c0c0c0"/>
<rect x="41" y="563" width="1" height="6" fill="#c0c0c0"/>
<rect x="49" y="565" width="1" height="4" fill="#c0c0c0"/>
<rect x="65" y="568" width="1" height="9" fill="#c0c0c0"/>
<rect x="73" y="568" width="1" height="14" fill="#c0c0c0"/>
<rect x="81" y="568" width="1" height="18" fill="#c0c0c0"/>
<rect x="89" y="568" width="1" height="20" fill="#c0c0c0"/>
<rect x="97" y="568" width="1" height="22" fill="#c0c0c0"/>
<rect x="105" y="568" width="1" height="23" fill="#c0c0c0"/>
<rect x="113" y="568" width="1" height="24" fill="#c0c0c0"/>
<rect x="121" y="568" width="1" height="24" fill="#c0c0c0"/>
<rect x="129" y="568" width="1" height="22" fill="#c0c0c0"/>
<rect x="137" y="568" width="1" height="20" fill="#c0c0c0"/>
<rect x="145" y="568" width="1" height="18" fill="#c0c0c0"/>
<rect x="153" y="568" width="1" height="15" fill="#c0c0c0"/>
<rect x="161" y="568" width="1" height="11" fill="#c0c0c0"/>
<rect x="169" y="568" width="1" height="8" fill="#c0c0c0"/>
<rect x="177" y="568" width="1" height="3" fill="#c0c0c0"/>
<rect x="193" y="565" width="1" height="4" fill="#c0c0c0"/>
<rect x="201" y="562" width="1" height="7" fill="#c0c0c0"/>
<rect x="209" y="558" width="1" height="11" fill="#c0c0c0"/>
<rect x="217" y="556" width="1" height="13" fill="#c0c0c0"/>
<rect x="225" y="555" width="1" height="14" fill="#c0c0c0"/>
<rect x="233" y="553" width="1" height="16" fill="#c0c0c0"/>
<rect x="241" y="552" width="1" height="17" fill="#c0c0c0"/>
<rect x="249" y="552" width="1" height="17" fill="#c0c0c0"/>
<rect x="257" y="553" width="1" height="16" fill="#c0c0c0"/>
<rect x="265" y="555" width="1" height="14" fill="#c0c0c0"/>
<rect x="273" y="557" width="1" height="12" fill="#c0c0c0"/>
<rect x="281" y="559" width="1" height="10" fill="#c0c0c0"/>
<rect x="289" y="559" width="1" height="10" fill="#c0c0c0"/>
<rect x="297" y="559" width="1" height="10" fill="#c0c0c0"/>
<rect x="305" y="558" width="1" height="11" fill="#c0c0c0"/>
<rect x="313" y="557" width="1" height="12" fill="#c0c0c0"/>
<rect x="321" y="557" width="1" height="12" fill="#c0c0c0"/>
<rect x="329" y="557" width="1" height="12" fill="#c0c0c0"/>
<rect x="337" y="557" width="1" height="12" fill="#c0c0c0"/>
<rect x="345" y="557" width="1" height="12" fill="#c0c0c0"/>
<rect x="353" y="557" width="1" height="12" fill="#c0c0c0"/>
<rect x="361" y="558" width="1" height="11" fill="#c0c0c0"/>
<rect x="369" y="559" width="1" height="10" fill="#c0c0c0"/>
<rect x="377" y="559" width="1" height="10" fill="#c0c0c0"/>
<rect x="385" y="558" width="1" height="11" fill="#c0c0c0"/>
<rect x="393" y="558" width="1" height="11" fill="#c0c0c0"/>
<rect x="401" y="564" width="1" height="5" fill="#c0c0c0"/>
<rect x="409" y="568" width="1" height="4" fill="#c0c0c0"/>
<rect x="417" y="568" width="1" height="10" fill="#c0c0c0"/>
<rect x="425" y="568" width="1" height="19" fill="#c0c0c0"/>
<rect x="433" y="568" width="1" height="24" fill="#c0c0c0"/>
<rect x="441" y="568" width="1" height="25" fill="#c0c0c0"/>
<rect x="449" y="568" width="1" height="24" fill="#c0c0c0"/>
<rect x="457" y="568" width="1" height="23" fill="#c0c0c0"/>
<rect x="465" y="568" width="1" height="21" fill="#c0c0c0"/>
<rect x="473" y="568" width="1" height="19" fill="#c0c0c0"/>
<rect x="481" y="568" width="1" height="17" fill="#c0c0c0"/>
<rect x="489" y="568" width="1" height="16" fill="#c0c0c0"/>
<rect x="497" y="568" width="1" height="14" fill="#c0c0c0"/>
<rect x="505" y="568" width="1" height="13" fill="#c0c0c0"/>
<rect x="513" y="568" width="1" height="13" fill="#c0c0c0"/>
<rect x="521" y="568" width="1" height="13" fill="#c0c0c0"/>
<rect x="529" y="568" width="1" height="12" fill="#c0c0c0"/>
<rect x="537" y="568" width="1" height="12" fill="#c0c0c0"/>
<rect x="545" y="568" width="1" height="12" fill="#c0c0c0"/>
<rect x="553" y="568" width="1" height="11" fill="#c0c0c0"/>
<rect x="561" y="568" width="1" height="9" fill="#c0c0c0"/>
<rect x="569" y="568" width="1" height="7" fill="#c0c0c0"/>
<rect x="577" y="568" width="1" height="6" fill="#c0c0c0"/>
<rect x="585" y="568" width="1" height="3" fill="#c0c0c0"/>
<rect x="593" y="567" width="1" height="2" fill="#c0c0c0"/>
<rect x="601" y="563" width="1" height="6" fill="#c0c0c0"/>
<rect x="609" y="560" width="1" height="9" fill="#c0c0c0"/>
<rect x="617" y="557" width="1" height="12" fill="#c0c0c0"/>
<rect x="625" y="554" width="1" height="15" fill="#c0c0c0"/>
<rect x="633" y="552" width="1" height="17" fill="#c0c0c0"/>
<rect x="641" y="550" width="1" height="19" fill="#c0c0c0"/>
<rect x="649" y="550" width="1" height="19" fill="#c0c0c0"/>
<rect x="657" y="550" width="1" height="19" fill="#c0c0c0"/>
<rect x="665" y="551" width="1" height="18" fill="#c0c0c0"/>
<rect x="673" y="554" width="1" height="15" fill="#c0c0c0"/>
<rect x="681" y="556" width="1" height="13" fill="#c0c0c0"/>
<rect x="689" y="557" width="1" height="12" fill="#c0c0c0"/>
<rect x="697" y="557" width="1" height="12" fill="#c0c0c0"/>
<rect x="705" y="559" width="1" height="10" fill="#c0c0c0"/>
<rect x="713" y="561" width="1" height="8" fill="#c0c0c0"/>
<rect x="721" y="563" width="1" height="6" fill="#c0c0c0"/>
<rect x="729" y="564" width="1" height="5" fill="#c0c0c0"/>
<rect x="737" y="566" width="1" height="3" fill="#c0c0c0"/>
<rect x="745" y="567" width="1" height="2" fill="#c0c0c0"/>
<rect x="777" y="567" width="1" height="2" fill="#c0c0c0"/>
<rect x="785" y="566" width="1" height="3" fill="#c0c0c0"/>
<rect x="793" y="563" width="1" height="6" fill="#c0c0c0"/>
<rect x="801" y="562" width="1" height="7" fill="#c0c0c0"/>
<rect x="809" y="560" width="1" height="9" fill="#c0c0c0"/>
<rect x="817" y="558" width="1" height="11" fill="#c0c0c0"/>
<rect x="825" y="554" width="1" height="15" fill="#c0c0c0"/>
<rect x="833" y="552" width="1" height="17" fill="#c0c0c0"/>
<rect x="841" y="550" width="1" height="19" fill="#c0c0c0"/>
<rect x="849" y="547" width="1" height="22" fill="#c0c0c0"/>
<rect x="857" y="544" width="1" height="25" fill="#c0c0c0"/>
<rect x="865" y="543" width="1" height="26" fill="#c0c0c0"/>
<rect x="873" y="542" width="1" height="27" fill="#c0c0c0"/>
<rect x="881" y="541" width="1" height="28" fill="#c0c0c0"/>
<rect x="889" y="540" width="1" height="29" fill="#c0c0c0"/>
<rect x="897" y="540" width="1" height="29" fill="#c0c0c0"/>
<rect x="905" y="541" width="1" height="28" fill="#c0c0c0"/>
<rect x="913" y="541" width="1" height="28" fill="#c0c0c0"/>
<rect x="921" y="541" width="1" height="28" fill="#c0c0c0"/>
<rect x="929" y="541" width="1" height="28" fill="#c0c0c0"/>
<rect x="937" y="542" width="1" height="27" fill="#c0c0c0"/>
<rect x="945" y="543" width="1" height="26" fill="#c0c0c0"/>
<rect x="953" y="544" width="1" height="25" fill="#c0c0c0"/>
<rect x="961" y="546" width="1" height="23" fill="#c0c0c0"/>
<rect x="969" y="548" width="1" height="21" fill="#c0c0c0"/>
<rect x="977" y="549" width="1" height="20" fill="#c0c0c0"/>
<rect x="985" y="552" width="1" height="17" fill="#c0c0c0"/>
<rect x="993" y="554" width="1" height="15" fill="#c0c0c0"/>
<rect x="1001" y="556" width="1" height="13" fill="#c0c0c0"/>
<rect x="1009" y="557" width="1" height="12" fill="#c0c0c0"/>
<rect x="1017" y="558" width="1" height="11" fill="#c0c0c0"/>
<rect x="1025" y="559" width="1" height="10" fill="#c0c0c0"/>
<rect x="1033" y="559" width="1" height="10" fill="#c0c0c0"/>
<rect x="1041" y="559" width="1" height="10" fill="#c0c0c0"/>
<rect x="1049" y="558" width="1" height="11" fill="#c0c0c0"/>
<rect x="1057" y="557" width="1" height="12" fill="#c0c0c0"/>
<rect x="1065" y="554" width="1" height="15" fill="#c0c0c0"/>
<rect x="1073" y="552" width="1" height="17" fill="#c0c0c0"/>
<rect x="1081" y="551" width="1" height="18" fill="#c0c0c0"/>
<rect x="1089" y="550" width="1" height="19" fill="#c0c0c0"/>
<rect x="1097" y="550" width="1" height="19" fill="#c0c0c0"/>
<rect x="1105" y="550" width="1" height="19" fill="#c0c0c0"/>
<rect x="1113" y="550" width="1" height="19" fill="#c0c0c0"/>
<rect x="1121" y="550" width="1" height="19" fill="#c0c0c0"/>
<rect x="1129" y="549" width="1" height="20" fill="#c0c0c0"/>
<rect x="1137" y="549" width="1" height="20" fill="#c0c0c0"/>
<rect x="1145" y="550" width="1" height="19" fill="#c0c0c0"/>
<rect x="1153" y="552" width="1" height="17" fill="#c0c0c0"/>
<rect x="1161" y="553" width="1" height="16" fill="#c0c0c0"/>
<rect x="1169" y="557" width="1" height="12" fill="#c0c0c0"/>
<rect x="1177" y="560" width="1" height="9" fill="#c0c0c0"/>
<rect x="1185" y="562" width="1" height="7" fill="#c0c0c0"/>
<rect x="1193" y="563" width="1" height="6" fill="#c0c0c0"/>
<rect x="1201" y="565" width="1" height="4" fill="#c0c0c0"/>
<rect x="1209" y="565" width="1" height="4" fill="#c0c0c0"/>
<rect x="1217" y="565" width="1" height="4" fill="#c0c0c0"/>
<rect x="1225" y="566" width="1" height="3" fill="#c0c0c0"/>
<rect x="1233" y="566" width="1" height="3" fill="#c0c0c0"/>
<rect x="1241" y="567" width="1" height="2" fill="#c0c0c0"/>
<rect x="1249" y="567" width="1" height="2" fill="#c0c0c0"/>
<rect x="1257" y="567" width="1" height="2" fill="#c0c0c0"/>
<rect x="1265" y="566" width="1" height="3" fill="#c0c0c0"/>
<rect x="1273" y="566" width="1" height="3" fill="#c0c0c0"/>
<rect x="1281" y="566" width="1" height="3" fill="#c0c0c0"/>
<rect x="1289" y="566" width="1" height="3" fill="#c0c0c0"/>
<rect x="1297" y="566" width="1" height="3" fill="#c0c0c0"/>
<rect x="1305" y="566" width="1" height="3" fill="#c0c0c0"/>
<rect x="1313" y="566" width="1" height="3" fill="#c0c0c0"/>
<path d="M9 569.5h3M15 570.5h3M21 571.5h3M27 570.5h3M33 570.5h3M39 570.5h3M45 569.5h3M51 569.5h3M57 569.5h3M63 569.5h3M69 569.5h3M75 570.5h3M81 570.5h1M82 571.5h2M87 571.5h1M88 572.5h2M93 574.5h2M95 575.5h1M99 576.5h1M100 577.5h2M105 579.5h2M107 580.5h1M111 581.5h2M113 582.5h1M117 583.5h1M118 584.5h2M123 585.5h1M124 586.5h2M129 587.5h3M135 588.5h3M141 589.5h3M147 589.5h3M153 589.5h3M159 588.5h3M165 587.5h3M171 586.5h1M172 585.5h2M177 584.5h2M179 583.5h1M183 582.5h2M185 581.5h1M189 580.5h1M190 579.5h2M195 577.5h2M197 576.5h1M201 575.5h1M202 574.5h2M207 572.5h2M209 571.5h1M213 570.5h1M214 569.5h2M219 567.5h3M225 565.5h2M227 564.5h1M231 563.5h2M233 562.5h1M237 561.5h1M238 560.5h2M243 559.5h1M244 558.5h2M249 557.5h2M251 556.5h1M255 555.5h3M261 554.5h3M267 553.5h3M273 553.5h3M279 553.5h3M285 554.5h3M291 554.5h3M297 554.5h3M303 554.5h3M309 555.5h3M315 556.5h3M321 556.5h3M327 556.5h3M333 556.5h3M339 556.5h3M345 556.5h3M351 556.5h3M357 556.5h3M363 556.5h3M369 556.5h3M375 556.5h3M381 556.5h3M387 556.5h3M393 556.5h3M399 557.5h3M405 558.5h3M411 559.5h3M417 561.5h2M419 562.5h1M423 564.5h2M425 565.5h1M429 567.5h2M431 568.5h1M435 569.5h1M436 570.5h2M441 572.5h1M442 573.5h2M447 576.5h2M449 577.5h1M453 579.5h2M455 580.5h1M459 581.5h1M460 582.5h2M465 584.5h2M467 585.5h1M471 586.5h1M472 587.5h2M477 587.5h2M479 588.5h1M483 588.5h3M489 588.5h3M495 588.5h3M501 587.5h3M507 586.5h3M513 586.5h2M515 585.5h1M519 585.5h3M525 584.5h3M531 583.5h3M537 582.5h3M543 582.5h1M544 581.5h2M549 581.5h3M555 581.5h1M556 580.5h2M561 580.5h3M567 579.5h3M573 578.5h3M579 577.5h3M585 577.5h3M591 576.5h3M597 574.5h3M603 572.5h3M609 571.5h1M610 570.5h2M615 569.5h3M621 567.5h3M627 565.5h3M633 563.5h2M635 562.5h1M639 561.5h1M640 560.5h2M645 559.5h1M646 558.5h2M651 557.5h3M657 555.5h2M659 554.5h1M663 553.5h3M669 552.5h3M675 552.5h3M681 552.5h3M687 552.5h3M693 552.5h3M699 552.5h2M701 553.5h1M705 553.5h3M711 553.5h2M713 554.5h1M717 554.5h3M723 555.5h2M725 556.5h1M729 556.5h1M730 557.5h2M735 558.5h3M741 559.5h3M747 559.5h1M748 560.5h2M753 560.5h1M754 561.5h2M759 562.5h3M765 563.5h2M767 564.5h1M771 564.5h3M777 565.5h3M783 565.5h3M789 565.5h3M795 565.5h3M801 565.5h3M807 565.5h3M813 564.5h3M819 563.5h3M825 563.5h1M826 562.5h2M831 561.5h2M833 560.5h1M837 559.5h3M843 558.5h1M844 557.5h2M849 556.5h2M851 555.5h1M855 554.5h2M857 553.5h1M861 552.5h3M867 551.5h1M868 550.5h2M873 549.5h3M879 548.5h1M880 547.5h2M885 546.5h3M891 545.5h1M892 544.5h2M897 543.5h3M903 542.5h3M909 541.5h3M915 541.5h3M921 541.5h1M922 540.5h2M927 540.5h3M933 540.5h3M939 540.5h3M945 540.5h2M947 541.5h1M951 541.5h3M957 541.5h3M963 542.5h3M969 542.5h3M975 542.5h1M976 543.5h2M981 543.5h1M982 544.5h2M987 544.5h1M988 545.5h2M993 545.5h1M994 546.5h2M999 547.5h3M1005 548.5h2M1007 549.5h1M1011 549.5h1M1012 550.5h2M1017 551.5h3M1023 552.5h3M1029 553.5h3M1035 554.5h3M1041 555.5h3M1047 556.5h3M1053 556.5h3M1059 556.5h3M1065 556.5h3M1071 555.5h3M1077 555.5h3M1083 555.5h3M1089 554.5h3M1095 553.5h3M1101 553.5h1M1102 552.5h2M1107 552.5h3M1113 551.5h3M1119 550.5h3M1125 549.5h3M1131 549.5h3M1137 549.5h3M1143 549.5h3M1149 549.5h3M1155 549.5h3M1161 549.5h3M1167 549.5h3M1173 550.5h3M1179 551.5h1M1180 552.5h2M1185 553.5h3M1191 553.5h2M1193 554.5h1M1197 554.5h3M1203 555.5h3M1209 556.5h2M1211 557.5h1M1215 558.5h1M1216 559.5h2M1221 560.5h3M1227 560.5h1M1228 561.5h2M1233 561.5h2M1235 562.5h1M1239 562.5h2M1241 563.5h1M1245 563.5h1M1246 564.5h2M1251 564.5h1M1252 565.5h2M1257 565.5h3M1263 565.5h3M1269 565.5h3M1275 565.5h3M1281 565.5h3M1287 565.5h3M1293 565.5h3M1299 565.5h3M1305 565.5h3M1311 565.5h3" fill="none" stroke="#ff0000" stroke-width="1"/>
<path d="M9 652.5h7M16 653.5h2M18 652.5h11M29 653.5h4M33 654.5h5M38 655.5h3M41.5 655v2M42 657.5h1M43.5 658v2M44 660.5h1M45.5 661v2M46 663.5h1M47.5 664v2M48 666.5h1M49.5 667v2M50 669.5h1M51 670.5h1M52.5 671v2M53 673.5h1M54 674.5h1M55.5 675v2M56 677.5h1M57 678.5h1M58 679.5h2M60 680.5h2M62 681.5h1M63 682.5h2M65 683.5h2M67 682.5h2M69 681.5h3M72 680.5h4M76 679.5h6M82 678.5h2M84 677.5h2M86 676.5h2M88 675.5h12M100 676.5h4M104 677.5h6M110 678.5h4M114 677.5h2M116 676.5h2M118 675.5h2M120 674.5h2M122 673.5h1M123 672.5h2M125 671.5h1M126 670.5h1M127 669.5h2M129 668.5h9M138 667.5h4M142 666.5h3M145 665.5h1M146 664.5h1M147 663.5h1M148 662.5h1M149 661.5h2M151 660.5h1M152 659.5h1M153 658.5h2M155 657.5h8M163 656.5h7M170 655.5h1M171 654.5h2M173 653.5h1M174 652.5h1M175 651.5h2M177 650.5h9M186 649.5h2M188 648.5h2M190 647.5h2M192 646.5h3M195 645.5h2M197 644.5h3M200 643.5h4M204 642.5h11M215 643.5h4M219 644.5h1M220 645.5h2M222 646.5h2M224 647.5h1M225 648.5h1M226 647.5h2M228 646.5h2M230 645.5h2M232 644.5h18M250 645.5h1M251 646.5h1M252.5 647v2M253 649.5h1M254 650.5h1M255 651.5h1M256 652.5h1M257 653.5h1M258 654.5h1M259.5 655v2M260 657.5h1M261 658.5h1M262 659.5h1M263 660.5h1M264.5 661v2M265 663.5h3M268 664.5h3M271 665.5h4M275 664.5h1M276 663.5h2M278 662.5h1M279 661.5h2M281 660.5h1M282 659.5h2M284 658.5h2M286 657.5h1M287 656.5h2M289 655.5h2M291 654.5h4M295 653.5h3M298 652.5h1M299 651.5h1M300 650.5h2M302 649.5h1M303 648.5h1M304 647.5h4M308 648.5h2M310 649.5h2M312 650.5h2M314 649.5h2M316 648.5h2M318 647.5h1M319 646.5h2M321 645.5h1M322 646.5h1M323 647.5h1M324 648.5h1M325 649.5h2M327 650.5h1M328 651.5h1M329 652.5h2M331 651.5h3M334 650.5h2M336 649.5h9M345.5 649v2M346 651.5h1M347.5 652v2M348 654.5h1M349.5 655v2M350.5 657v2M351 659.5h1M352.5 660v2M353 662.5h1M354 661.5h2M356 660.5h1M357 659.5h2M359 658.5h2M361 657.5h4M365 658.5h5M370 657.5h2M372 656.5h1M373 655.5h1M374 654.5h2M376 653.5h1M377 652.5h16M393.5 652v4M394.5 656v4M395.5 660v5M396.5 665v4M397.5 669v4M398.5 673v4M399.5 677v4M400.5 681v4M401 685.5h1M402 686.5h1M403 687.5h2M405 688.5h2M407 689.5h2M409 690.5h1M410 689.5h2M412 688.5h1M413 687.5h2M415 686.5h2M417 685.5h1M418 686.5h1M419 687.5h1M420 688.5h1M421 689.5h1M422 690.5h1M423 691.5h1M424 692.5h1M425 693.5h1M426.5 691v2M427 690.5h1M428 689.5h1M429 688.5h1M430 687.5h1M431.5 685v2M432 684.5h1M433 683.5h1M434.5 681v2M435 680.5h1M436 679.5h1M437.5 677v2M438 676.5h1M439.5 674v2M440 673.5h1M441 672.5h2M443 671.5h4M447 670.5h8M455 671.5h3M458 670.5h2M460 669.5h3M463 668.5h2M465 667.5h3M468 668.5h7M475 667.5h3M478 666.5h2M480 665.5h3M483 666.5h2M485 667.5h3M488 668.5h3M491 667.5h1M492 666.5h2M494 665.5h1M495 664.5h2M497 663.5h1M498 664.5h2M500 665.5h2M502 666.5h1M503 667.5h2M505 668.5h3M508 669.5h4M512 670.5h2M514 669.5h4M518 668.5h3M521 667.5h10M531 668.5h5M536 669.5h3M539 670.5h2M541 671.5h2M543 672.5h2M545.5 672v2M546 671.5h1M547.5 669v2M548 668.5h1M549.5 666v2M550 665.5h1M551.5 663v2M552 662.5h1M553 661.5h1M554 660.5h4M558 659.5h7M565 660.5h4M569 661.5h3M572 662.5h2M574 663.5h3M577.5 663v2M578 662.5h1M579.5 660v2M580.5 658v2M581 657.5h1M582.5 655v2M583 654.5h1M584.5 652v2M585 651.5h2M587 650.5h3M590 649.5h2M592 648.5h3M595 647.5h3M598 646.5h2M600 645.5h5M605 646.5h14M619 645.5h3M622 644.5h3M625 643.5h5M630 642.5h5M635 641.5h2M637 640.5h3M640 639.5h1M641.5 639v2M642 641.5h1M643.5 642v2M644.5 644v2M645.5 646v2M646 648.5h1M647.5 649v2M648.5 651v2M649 653.5h5M654 652.5h5M659 653.5h4M663 654.5h3M666 655.5h1M667 656.5h1M668 657.5h2M670 658.5h1M671 659.5h1M672 660.5h1M673 661.5h2M675 660.5h7M682 659.5h3M685 658.5h3M688 657.5h5M693 656.5h5M698 657.5h1M699 658.5h1M700 659.5h1M701 660.5h1M702 661.5h1M703.5 662v2M704 664.5h1M705 665.5h14M719 666.5h3M722 665.5h2M724 664.5h2M726 663.5h2M728 662.5h2M730 663.5h2M732 664.5h1M733 665.5h1M734 666.5h1M735 667.5h1M736 668.5h1M737 669.5h1M738 668.5h2M740 667.5h2M742 666.5h2M744 665.5h3M747 664.5h7M754 663.5h4M758 662.5h6M764 663.5h2M766 664.5h3M769 665.5h1M770 664.5h1M771 663.5h1M772 662.5h1M773 661.5h1M774 660.5h1M775 659.5h1M776 658.5h1M777.5 656v2M778 655.5h1M779 654.5h1M780.5 652v2M781 651.5h1M782 650.5h1M783.5 648v2M784 647.5h1M785 646.5h2M787 647.5h2M789 648.5h3M792 649.5h4M796 648.5h5M801 647.5h6M807 646.5h5M812 645.5h5M817.5 644v2M818 643.5h1M819 642.5h1M820.5 640v2M821 639.5h1M822 638.5h1M823.5 636v2M824 635.5h1M825 634.5h1M826 635.5h1M827 636.5h1M828 637.5h1M829 638.5h1M830 639.5h1M831 640.5h1M832 641.5h1M833 642.5h2M835 641.5h3M838 640.5h4M842 639.5h1M843 638.5h2M845 637.5h2M847 636.5h1M848 635.5h6M854 636.5h15M869 635.5h14M883 634.5h4M887 633.5h4M891 634.5h2M893 635.5h2M895 636.5h2M897 637.5h20M917 636.5h6M923 635.5h4M927 634.5h12M939 633.5h4M943 632.5h3M946 633.5h1M947 634.5h1M948 635.5h1M949 636.5h1M950.5 637v2M951 639.5h1M952 640.5h1M953 641.5h1M954 642.5h2M956 643.5h2M958 644.5h1M959 645.5h2M961 646.5h3M964 645.5h4M968 644.5h2M970 645.5h1M971 646.5h1M972 647.5h1M973 648.5h2M975 649.5h1M976 650.5h1M977 651.5h1M978 652.5h1M979 653.5h1M980 654.5h1M981 655.5h1M982 656.5h1M983 657.5h1M984 658.5h1M985 659.5h1M986 658.5h3M989 657.5h3M992 656.5h2M994 657.5h1M995 658.5h2M997 659.5h1M998 660.5h2M1000 661.5h1M1001.5 661v2M1002 660.5h1M1003 659.5h1M1004 658.5h1M1005 657.5h1M1006.5 655v2M1007 654.5h1M1008 653.5h1M1009 652.5h2M1011 653.5h4M1015 654.5h5M1020 653.5h4M1024 652.5h3M1027 651.5h3M1030 650.5h3M1033 649.5h9M1042 648.5h1M1043 647.5h2M1045 646.5h1M1046 645.5h1M1047 644.5h2M1049 643.5h1M1050 642.5h2M1052 641.5h1M1053 640.5h2M1055 639.5h2M1057 638.5h1M1058 637.5h1M1059.5 635v2M1060 634.5h1M1061 633.5h1M1062 632.5h1M1063 631.5h1M1064 630.5h1M1065 629.5h2M1067 630.5h2M1069 631.5h2M1071 632.5h2M1073 633.5h1M1074 634.5h1M1075 635.5h2M1077 636.5h1M1078 637.5h1M1079 638.5h1M1080 639.5h1M1081 640.5h10M1091 639.5h3M1094 638.5h3M1097 637.5h1M1098 638.5h1M1099 639.5h2M1101 640.5h1M1102 641.5h1M1103 642.5h2M1105 643.5h2M1107 642.5h2M1109 641.5h3M1112 640.5h11M1123 639.5h4M1127 638.5h6M1133 637.5h5M1138 638.5h1M1139.5 639v2M1140 641.5h1M1141 642.5h1M1142 643.5h1M1143.5 644v2M1144 646.5h1M1145 647.5h1M1146 648.5h2M1148 649.5h1M1149 650.5h1M1150 651.5h2M1152 652.5h1M1153 653.5h8M1161.5 653v2M1162.5 655v2M1163.5 657v2M1164.5 659v2M1165.5 661v2M1166.5 663v3M1167.5 666v2M1168.5 668v2M1169 670.5h3M1172 669.5h6M1178 668.5h3M1181 667.5h3M1184 666.5h2M1186 665.5h2M1188 664.5h2M1190 663.5h3M1193 662.5h1M1194 663.5h2M1196 664.5h2M1198 665.5h1M1199 666.5h2M1201 667.5h1M1202 666.5h1M1203 665.5h2M1205 664.5h1M1206 663.5h2M1208 662.5h1M1209 661.5h2M1211 660.5h2M1213 659.5h3M1216 658.5h3M1219 659.5h2M1221 660.5h2M1223 661.5h2M1225 662.5h12M1237 661.5h7M1244 660.5h6M1250 659.5h2M1252 658.5h1M1253 657.5h1M1254 656.5h2M1256 655.5h1M1257 654.5h2M1259 653.5h4M1263 652.5h4M1267 653.5h2M1269 654.5h2M1271 655.5h1M1272 656.5h6M1278 655.5h4M1282 656.5h3M1285 657.5h2M1287 658.5h2M1289 659.5h3M1292 660.5h3M1295 661.5h3M1298 660.5h1M1299 659.5h1M1300 658.5h1M1301.5 656v2M1302 655.5h1M1303 654.5h1M1304 653.5h1M1305 652.5h3M1308 651.5h6" fill="none" stroke="#1e90ff" stroke-width="1"/>
<rect x="8" y="40" width="1657" height="1" fill="#000"/>
<rect x="8" y="533" width="1657" height="1" fill="#000"/>
<rect x="8" y="535" width="1657" height="1" fill="#000"/>
<rect x="8" y="596" width="1657" height="1" fill="#000"/>
<rect x="8" y="598" width="1657" height="1" fill="#000"/>
<rect x="8" y="726" width="1657" height="1" fill="#000"/>
<rect x="8" y="40" width="1" height="687" fill="#000"/>
<rect x="1664" y="40" width="1" height="687" fill="#000"/>
<rect x="1664" y="60" width="1" height="2" fill="#ff0000"/>
<rect x="1664" y="97" width="1" height="1" fill="#c0c0c0"/>
<rect x="1664" y="115" width="1" height="2" fill="#00ff7f"/>
<rect x="1664" y="204" width="1" height="2" fill="#0000ff"/>
<rect x="1664" y="315" width="1" height="2" fill="#0000ff"/>
<rect x="9" y="727" width="1" height="3" fill="#000"/>
<rect x="105" y="727" width="1" height="3" fill="#000"/>
<rect x="201" y="727" width="1" height="3" fill="#000"/>
<rect x="297" y="727" width="1" height="3" fill="#000"/>
<rect x="393" y="727" width="1" height="3" fill="#000"/>
<rect x="489" y="727" width="1" height="3" fill="#000"/>
<rect x="585" y="727" width="1" height="3" fill="#000"/>
<rect x="681" y="727" width="1" height="3" fill="#000"/>
<rect x="777" y="727" width="1" height="3" fill="#000"/>
<rect x="873" y="727" width="1" height="3" fill="#000"/>
<rect x="969" y="727" width="1" height="3" fill="#000"/>
<rect x="1065" y="727" width="1" height="3" fill="#000"/>
<rect x="1161" y="727" width="1" height="3" fill="#000"/>
<rect x="1257" y="727" width="1" height="3" fill="#000"/>
<rect x="1665" y="73" width="2" height="1" fill="#000"/>
<rect x="1665" y="122" width="2" height="1" fill="#000"/>
<rect x="1665" y="171" width="2" height="1" fill="#000"/>
<rect x="1665" y="220" width="2" height="1" fill="#000"/>
<rect x="1665" y="269" width="2" height="1" fill="#000"/>
<rect x="1665" y="318" width="2" height="1" fill="#000"/>
<rect x="1665" y="367" width="2" height="1" fill="#000"/>
<rect x="1665" y="416" width="2" height="1" fill="#000"/>
<rect x="1665" y="465" width="2" height="1" fill="#000"/>
<rect x="1665" y="514" width="2" height="1" fill="#000"/>
<rect x="1665" y="536" width="2" height="1" fill="#000"/>
<rect x="1665" y="568" width="2" height="1" fill="#000"/>
<rect x="1665" y="595" width="2" height="1" fill="#000"/>
<rect x="1665" y="599" width="2" height="1" fill="#000"/>
<rect x="1665" y="725" width="2" height="1" fill="#000"/>
</g>
<text x="1671" y="78" font-size="12" fill="#000" textLength="52" lengthAdjust="spacingAndGlyphs">3019.720</text>
<text x="1671" y="127" font-size="12" fill="#000" textLength="52" lengthAdjust="spacingAndGlyphs">2997.470</text>
<text x="1671" y="176" font-size="12" fill="#000" textLength="52" lengthAdjust="spacingAndGlyphs">2975.220</text>
<text x="1671" y="225" font-size="12" fill="#000" textLength="52" lengthAdjust="spacingAndGlyphs">2953.415</text>
<text x="1671" y="274" font-size="12" fill="#000" textLength="52" lengthAdjust="spacingAndGlyphs">2931.165</text>
<text x="1671" y="323" font-size="12" fill="#000" textLength="52" lengthAdjust="spacingAndGlyphs">2908.915</text>
<text x="1671" y="372" font-size="12" fill="#000" textLength="52" lengthAdjust="spacingAndGlyphs">2887.110</text>
<text x="1671" y="421" font-size="12" fill="#000" textLength="52" lengthAdjust="spacingAndGlyphs">2864.860</text>
<text x="1671" y="470" font-size="12" fill="#000" textLength="52" lengthAdjust="spacingAndGlyphs">2842.610</text>
<text x="1671" y="519" font-size="12" fill="#000" textLength="52" lengthAdjust="spacingAndGlyphs">2820.805</text>
<rect x="1666" y="55" width="63" height="14" fill="#ff0000" shape-rendering="crispEdges"/>
<text x="1671" y="67" font-size="12" fill="#fff" textLength="52" lengthAdjust="spacingAndGlyphs">3025.000</text>
<rect x="1666" y="90" width="63" height="14" fill="#000" shape-rendering="crispEdges"/>
<text x="1671" y="102" font-size="12" fill="#fff" textLength="52" lengthAdjust="spacingAndGlyphs">3008.750</text>
<rect x="1666" y="110" width="63" height="14" fill="#00ff7f" shape-rendering="crispEdges"/>
<text x="1671" y="122" font-size="12" fill="#fff" textLength="52" lengthAdjust="spacingAndGlyphs">3000.000</text>
<rect x="1666" y="199" width="63" height="14" fill="#0000ff" shape-rendering="crispEdges"/>
<text x="1671" y="211" font-size="12" fill="#fff" textLength="52" lengthAdjust="spacingAndGlyphs">2960.000</text>
<rect x="1666" y="310" width="63" height="14" fill="#0000ff" shape-rendering="crispEdges"/>
<text x="1671" y="322" font-size="12" fill="#fff" textLength="52" lengthAdjust="spacingAndGlyphs">2910.000</text>
<text x="1668" y="549" font-size="12" fill="#000" textLength="46" lengthAdjust="spacingAndGlyphs">20.8675</text>
<text x="1668" y="573" font-size="12" fill="#000" textLength="25" lengthAdjust="spacingAndGlyphs">0.00</text>
<text x="1668" y="593" font-size="12" fill="#000" textLength="49" lengthAdjust="spacingAndGlyphs">-17.6231</text>
<text x="1668" y="612" font-size="12" fill="#000" textLength="20.5" lengthAdjust="spacingAndGlyphs">100</text>
<text x="1668" y="642" font-size="12" fill="#000" textLength="13" lengthAdjust="spacingAndGlyphs">70</text>
<text x="1668" y="693" font-size="12" fill="#000" textLength="13" lengthAdjust="spacingAndGlyphs">30</text>
<text x="1668" y="723" font-size="12" fill="#000">0</text>
<path d="M12 53l4.5-5 4.5 5z" fill="#000"/>
<text x="27.5" y="55" font-size="12" fill="#000" textLength="57" lengthAdjust="spacingAndGlyphs">SP500-,H4</text>
<text x="93.5" y="55" font-size="12" fill="#000" textLength="52" lengthAdjust="spacingAndGlyphs">3008.750</text>
<text x="150.5" y="55" font-size="12" fill="#000" textLength="52" lengthAdjust="spacingAndGlyphs">3012.250</text>
<text x="207.5" y="55" font-size="12" fill="#000" textLength="52" lengthAdjust="spacingAndGlyphs">3007.750</text>
<text x="264.5" y="55" font-size="12" fill="#000" textLength="52" lengthAdjust="spacingAndGlyphs">3008.750</text>
<text x="13" y="551" font-size="12" fill="#000" textLength="170" lengthAdjust="spacingAndGlyphs">MACD(12,26,9) 2.5232 2.1781</text>
<text x="13" y="614" font-size="12" fill="#000" textLength="92" lengthAdjust="spacingAndGlyphs">RSI(14) 58.8175</text>
<text x="8.5" y="742" font-size="12" fill="#000" textLength="70" lengthAdjust="spacingAndGlyphs">13 Aug 2019</text>
<text x="104.5" y="742" font-size="12" fill="#000" textLength="75" lengthAdjust="spacingAndGlyphs">15 Aug 12:00</text>
<text x="200.5" y="742" font-size="12" fill="#000" textLength="75" lengthAdjust="spacingAndGlyphs">19 Aug 08:00</text>
<text x="296.5" y="742" font-size="12" fill="#000" textLength="75" lengthAdjust="spacingAndGlyphs">21 Aug 08:00</text>
<text x="392.5" y="742" font-size="12" fill="#000" textLength="75" lengthAdjust="spacingAndGlyphs">23 Aug 08:00</text>
<text x="488.5" y="742" font-size="12" fill="#000" textLength="75" lengthAdjust="spacingAndGlyphs">27 Aug 04:00</text>
<text x="584.5" y="742" font-size="12" fill="#000" textLength="75" lengthAdjust="spacingAndGlyphs">29 Aug 04:00</text>
<text x="680.5" y="742" font-size="12" fill="#000" textLength="67" lengthAdjust="spacingAndGlyphs">2 Sep 00:00</text>
<text x="776.5" y="742" font-size="12" fill="#000" textLength="67" lengthAdjust="spacingAndGlyphs">4 Sep 00:00</text>
<text x="872.5" y="742" font-size="12" fill="#000" textLength="67" lengthAdjust="spacingAndGlyphs">6 Sep 00:00</text>
<text x="968.5" y="742" font-size="12" fill="#000" textLength="67" lengthAdjust="spacingAndGlyphs">9 Sep 20:00</text>
<text x="1064.5" y="742" font-size="12" fill="#000" textLength="74" lengthAdjust="spacingAndGlyphs">11 Sep 20:00</text>
<text x="1160.5" y="742" font-size="12" fill="#000" textLength="74" lengthAdjust="spacingAndGlyphs">13 Sep 20:00</text>
<text x="1256.5" y="742" font-size="12" fill="#000" textLength="74" lengthAdjust="spacingAndGlyphs">17 Sep 16:00</text>
<defs><linearGradient id="gb" x1="0" y1="0" x2="0" y2="1"><stop offset="0" stop-color="#4646e6"/><stop offset="0.45" stop-color="#2828cc"/><stop offset="1" stop-color="#0000a0"/></linearGradient>
<linearGradient id="gt" x1="0" y1="0" x2="0" y2="1"><stop offset="0" stop-color="#5252f2"/><stop offset="1" stop-color="#4444e2"/></linearGradient>
<linearGradient id="gs" x1="0" y1="0" x2="0" y2="1"><stop offset="0" stop-color="#f2f2f2"/><stop offset="0.5" stop-color="#dcdcdc"/><stop offset="1" stop-color="#c6c6c6"/></linearGradient></defs>
<g shape-rendering="crispEdges">
<rect x="10" y="61" width="288" height="80" fill="#fff"/>
<rect x="12" y="63" width="68" height="28" fill="url(#gt)"/>
<rect x="227" y="63" width="68" height="28" fill="url(#gt)"/>
<rect x="12" y="91" width="141" height="48" fill="url(#gb)"/>
<rect x="155" y="91" width="140" height="48" fill="url(#gb)"/>
<rect x="16" y="90" width="60" height="1" fill="#8080f8"/>
<rect x="231" y="90" width="60" height="1" fill="#8080f8"/>
<rect x="80" y="63" width="147" height="28" fill="#f4f4f4"/>
<rect x="82" y="63" width="144" height="26" fill="#c8c8c8"/>
<rect x="83" y="64" width="142" height="24" fill="#fff"/>
<rect x="84" y="65" width="21" height="22" fill="url(#gs)"/>
<rect x="202" y="65" width="21" height="22" fill="url(#gs)"/>
<rect x="105" y="64" width="2" height="24" fill="#f4f4f4"/>
<rect x="200" y="64" width="2" height="24" fill="#f4f4f4"/>
<rect x="106" y="64" width="1" height="24" fill="#c8c8c8"/>
<rect x="200" y="64" width="1" height="24" fill="#c8c8c8"/>
</g>
<path d="M91 74h7l-3.5 4z" fill="#5a68b4"/><path d="M209 78h7l-3.5-4z" fill="#5a68b4"/>
<text x="29.5" y="81" font-size="15" fill="#fff" textLength="32.5" lengthAdjust="spacingAndGlyphs">SELL</text>
<text x="246.5" y="81" font-size="15" fill="#fff" textLength="28" lengthAdjust="spacingAndGlyphs">BUY</text>
<text x="166.5" y="80.5" font-size="15" fill="#000" textLength="30" lengthAdjust="spacingAndGlyphs">1.00</text>
<text x="34" y="126.8" font-size="14" fill="#fff" textLength="34.5" lengthAdjust="spacingAndGlyphs" font-weight="bold">3008</text>
<text x="176" y="126.8" font-size="14" fill="#fff" textLength="34.5" lengthAdjust="spacingAndGlyphs" font-weight="bold">3009</text>
<text x="73" y="126.7" font-size="40.5" fill="#fff" textLength="42" lengthAdjust="spacingAndGlyphs">73</text>
<text x="217.5" y="126.7" font-size="40.5" fill="#fff" textLength="41" lengthAdjust="spacingAndGlyphs">51</text>
<text x="123" y="109.5" font-size="14" fill="#fff" textLength="7.5" lengthAdjust="spacingAndGlyphs" font-weight="bold">5</text>
<text x="266" y="109.5" font-size="14" fill="#fff" textLength="7.5" lengthAdjust="spacingAndGlyphs" font-weight="bold">5</text>
<text x="1132" y="418" font-size="52" fill="#ff2410" textLength="365" lengthAdjust="spacingAndGlyphs" style="font-family:'Liberation Sans','Noto Sans CJK SC',sans-serif">多空转折点3000</text>
<g shape-rendering="crispEdges">
<rect x="0" y="750" width="1733" height="5" fill="#fff"/>
<rect x="0" y="750" width="5" height="5" fill="#f0f0f0"/>
<rect x="4" y="750" width="1729" height="1" fill="#dedede"/>
<rect x="4" y="752" width="328" height="1" fill="#000"/>
<rect x="5" y="752" width="1" height="3" fill="#000"/>
<rect x="331" y="752" width="1" height="3" fill="#000"/>
<rect x="434" y="752" width="1299" height="1" fill="#000"/>
<rect x="434" y="752" width="1" height="3" fill="#000"/>
<rect x="6" y="753" width="325" height="2" fill="#f0f0f0"/>
<rect x="435" y="753" width="1298" height="2" fill="#f0f0f0"/>
</g>
</svg></body></html>
